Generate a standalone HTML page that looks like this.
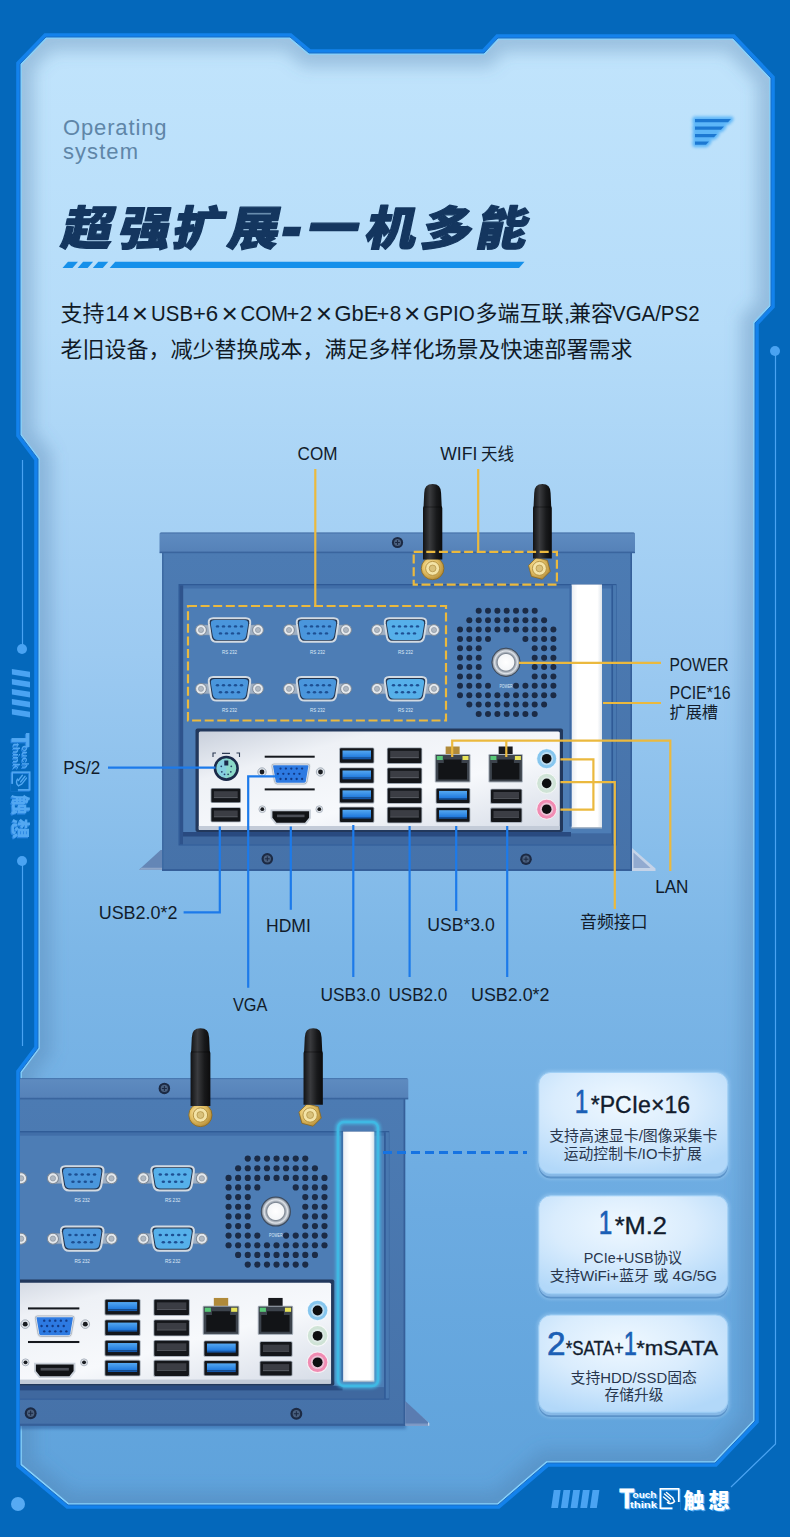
<!DOCTYPE html>
<html lang="zh-CN"><head><meta charset="utf-8"><title>超强扩展-一机多能</title>
<style>html,body{margin:0;padding:0;background:#0468bb}body{width:790px;height:1537px;overflow:hidden}svg{display:block}</style></head><body>
<svg width="790" height="1537" viewBox="0 0 790 1537">
<defs>
<linearGradient id="gPanel" x1="0" y1="0" x2="0" y2="1">
<stop offset="0" stop-color="#c1e4fc"/><stop offset="0.2" stop-color="#b5dcf9"/><stop offset="0.42" stop-color="#9ccaf1"/>
<stop offset="0.62" stop-color="#7db7e7"/><stop offset="0.8" stop-color="#6cabe1"/><stop offset="1" stop-color="#5ea2db"/>
</linearGradient>
<clipPath id="cpPanel"><polygon points="20,64 46,37 290,37 309,53 484,53 498,38 733,38 771,78 771,306 755,323 755,1421 715,1463 547,1463 498,1505 68,1505 20,1465 20,1072 38,1048 38,459 20,435"/></clipPath>
<filter id="blur6" x="-10%" y="-10%" width="120%" height="120%"><feGaussianBlur stdDeviation="6"/></filter>
<filter id="blur8" x="-10%" y="-10%" width="120%" height="120%"><feGaussianBlur stdDeviation="8"/></filter>
<filter id="blur3" x="-20%" y="-20%" width="140%" height="140%"><feGaussianBlur stdDeviation="3"/></filter>
<filter id="blur2" x="-30%" y="-30%" width="160%" height="160%"><feGaussianBlur stdDeviation="1.6"/></filter>
<filter id="blur1" x="-30%" y="-30%" width="160%" height="160%"><feGaussianBlur stdDeviation="0.8"/></filter>
</defs>
<rect width="790" height="1537" fill="#0468bb"/>
<polygon points="20,64 46,37 290,37 309,53 484,53 498,38 733,38 771,78 771,306 755,323 755,1421 715,1463 547,1463 498,1505 68,1505 20,1465 20,1072 38,1048 38,459 20,435" fill="none" stroke="#1382ec" stroke-width="7.6" stroke-linejoin="miter"/>
<polygon points="20,64 46,37 290,37 309,53 484,53 498,38 733,38 771,78 771,306 755,323 755,1421 715,1463 547,1463 498,1505 68,1505 20,1465 20,1072 38,1048 38,459 20,435" fill="url(#gPanel)"/>
<g clip-path="url(#cpPanel)"><polygon points="20,64 46,37 290,37 309,53 484,53 498,38 733,38 771,78 771,306 755,323 755,1421 715,1463 547,1463 498,1505 68,1505 20,1465 20,1072 38,1048 38,459 20,435" fill="none" stroke="#4a78a8" stroke-opacity="0.33" stroke-width="28" filter="url(#blur8)"/><polygon points="20,64 46,37 290,37 309,53 484,53 498,38 733,38 771,78 771,306 755,323 755,1421 715,1463 547,1463 498,1505 68,1505 20,1465 20,1072 38,1048 38,459 20,435" fill="none" stroke="#86d2fc" stroke-width="3.6"/></g>
<polygon points="20,64 46,37 290,37 309,53 484,53 498,38 733,38 771,78 771,306 755,323 755,1421 715,1463 547,1463 498,1505 68,1505 20,1465 20,1072 38,1048 38,459 20,435" fill="none" stroke="#1a6cc4" stroke-width="1"/>
<circle cx="775" cy="351" r="5" fill="#4aa3f2"/>
<polyline points="775.5,351 775.5,1444 731,1487" fill="none" stroke="#4aa3f2" stroke-width="1.2"/>
<line x1="22.5" y1="460" x2="22.5" y2="649" stroke="#4aa3f2" stroke-width="1.2"/>
<circle cx="22" cy="649" r="5" fill="#4aa3f2"/>
<circle cx="22" cy="861" r="5" fill="#4aa3f2"/>
<line x1="22.5" y1="861" x2="22.5" y2="1046" stroke="#4aa3f2" stroke-width="1.2"/>
<circle cx="18" cy="1504" r="7" fill="#56aaf3"/>
<polygon points="11.9,668.9 30,671.8 30,677.5 11.9,674.6" fill="#4aa3f2"/>
<polygon points="11.9,678.9 30,681.8 30,687.5 11.9,684.6" fill="#4aa3f2"/>
<polygon points="11.9,688.9 30,691.8 30,697.5 11.9,694.6" fill="#4aa3f2"/>
<polygon points="11.9,698.9 30,701.8 30,707.5 11.9,704.6" fill="#4aa3f2"/>
<polygon points="11.9,708.9 30,711.8 30,717.5 11.9,714.6" fill="#4aa3f2"/>
<polygon points="553.8,1490 560.6,1490 558.0,1508 551.2,1508" fill="#4aa3f2"/>
<polygon points="563.5,1490 570.3,1490 567.7,1508 560.9,1508" fill="#4aa3f2"/>
<polygon points="573.2,1490 580.0,1490 577.4,1508 570.6,1508" fill="#4aa3f2"/>
<polygon points="582.9,1490 589.7,1490 587.1,1508 580.3,1508" fill="#4aa3f2"/>
<polygon points="592.6,1490 599.4,1490 596.8,1508 590.0,1508" fill="#4aa3f2"/>
<defs>
<linearGradient id="gLid" x1="0" y1="0" x2="0" y2="1"><stop offset="0" stop-color="#2f5a96"/><stop offset="0.07" stop-color="#5e8bc0"/><stop offset="1" stop-color="#5581b8"/></linearGradient>
<linearGradient id="gBody" x1="0" y1="0" x2="0" y2="1"><stop offset="0" stop-color="#4c7bb3"/><stop offset="1" stop-color="#4672a9"/></linearGradient>
<linearGradient id="gShield" x1="0" y1="0" x2="1" y2="1"><stop offset="0" stop-color="#c9d0dc"/><stop offset="0.25" stop-color="#eef1f6"/><stop offset="0.6" stop-color="#f7f9fc"/><stop offset="1" stop-color="#d5dbe6"/></linearGradient>
<linearGradient id="gAnt" x1="0" y1="0" x2="1" y2="0"><stop offset="0" stop-color="#111214"/><stop offset="0.35" stop-color="#3a3b3e"/><stop offset="0.7" stop-color="#18191b"/><stop offset="1" stop-color="#0b0b0c"/></linearGradient>
<radialGradient id="gGold" cx="0.4" cy="0.4" r="0.7"><stop offset="0" stop-color="#fff3c8"/><stop offset="0.45" stop-color="#e6c46a"/><stop offset="1" stop-color="#a97f2a"/></radialGradient>
<radialGradient id="gBtn" cx="0.5" cy="0.5" r="0.5"><stop offset="0" stop-color="#ffffff"/><stop offset="0.55" stop-color="#f4f6f8"/><stop offset="0.62" stop-color="#7d8794"/><stop offset="0.8" stop-color="#dfe4ea"/><stop offset="1" stop-color="#5f6b7a"/></radialGradient>
<linearGradient id="gSlot" x1="0" y1="0" x2="1" y2="0"><stop offset="0" stop-color="#e9edf2"/><stop offset="0.2" stop-color="#ffffff"/><stop offset="0.85" stop-color="#ffffff"/><stop offset="1" stop-color="#dfe5ec"/></linearGradient>
<linearGradient id="gUsb3" x1="0" y1="0" x2="0" y2="1"><stop offset="0" stop-color="#54a8f2"/><stop offset="1" stop-color="#1f78dc"/></linearGradient>
</defs>
<g font-family="'Liberation Sans','Noto Sans CJK SC',sans-serif" font-size="22" fill="#5f86a8" font-weight="normal"><text x="63" y="135.4" textLength="103.5" lengthAdjust="spacing">Operating</text><text x="63" y="158.5" textLength="75" lengthAdjust="spacing">system</text></g>
<g fill="#58b4f8" stroke="#58b4f8" stroke-width="5" stroke-linejoin="round" filter="url(#blur2)" opacity="0.95"><polygon points="695,119 731,119 728,122.2 695,122.2"/><polygon points="695,126.5 724,126.5 721,129.7 695,129.7"/><polygon points="695,134 717,134 714,137.2 695,137.2"/><polygon points="695,141.5 709,141.5 706,144.7 695,144.7"/></g>
<g fill="#1c78d2"><polygon points="695,119 731,119 728,122.2 695,122.2"/><polygon points="695,126.5 724,126.5 721,129.7 695,129.7"/><polygon points="695,134 717,134 714,137.2 695,137.2"/><polygon points="695,141.5 709,141.5 706,144.7 695,144.7"/></g>
<g font-family="'Liberation Sans','Noto Sans CJK SC',sans-serif" font-weight="900" fill="#14365f" stroke="#14365f" stroke-width="1.3" stroke-linejoin="round" font-size="46.5">
<text transform="translate(85.2,244.8) skewX(-12) scale(1.1,1)" text-anchor="middle" x="0" y="0">超</text>
<text transform="translate(142.6,244.8) skewX(-12) scale(1.1,1)" text-anchor="middle" x="0" y="0">强</text>
<text transform="translate(196.0,244.8) skewX(-12) scale(1.1,1)" text-anchor="middle" x="0" y="0">扩</text>
<text transform="translate(251.6,244.8) skewX(-12) scale(1.1,1)" text-anchor="middle" x="0" y="0">展</text>
<text transform="translate(330.5,244.8) skewX(-12) scale(1.1,1)" text-anchor="middle" x="0" y="0">一</text>
<text transform="translate(388.8,244.8) skewX(-12) scale(1.1,1)" text-anchor="middle" x="0" y="0">机</text>
<text transform="translate(444.8,244.8) skewX(-12) scale(1.1,1)" text-anchor="middle" x="0" y="0">多</text>
<text transform="translate(499.5,244.8) skewX(-12) scale(1.1,1)" text-anchor="middle" x="0" y="0">能</text>
<text transform="translate(275.9,251.7) skewX(-12) scale(0.86,1)" x="0" y="0" font-size="79" stroke="none">-</text>
</g>
<polygon points="62.5,267.9 68.0,261.8 78.0,261.8 72.5,267.9" fill="#1590ea"/>
<polygon points="77.6,267.9 83.1,261.8 93.1,261.8 87.6,267.9" fill="#1590ea"/>
<polygon points="92.8,267.9 98.3,261.8 108.3,261.8 102.8,267.9" fill="#1590ea"/>
<polygon points="109.7,267.9 115.2,261.8 524.5,261.8 519,267.9" fill="#1590ea"/>
<g font-family="'Liberation Sans','Noto Sans CJK SC',sans-serif" font-size="22" fill="#111a26">
<text x="60.5" y="321.2">支持</text>
<text x="105.5" y="321.2" textLength="23.7" lengthAdjust="spacingAndGlyphs">14</text>
<text x="140.0" y="322.6" text-anchor="middle" font-size="28">×</text>
<text x="151.1" y="321.2" textLength="41.9" lengthAdjust="spacingAndGlyphs">USB</text>
<text x="199.5" y="321.2" text-anchor="middle">+</text>
<text x="205.7" y="321.2" textLength="12.4" lengthAdjust="spacingAndGlyphs">6</text>
<text x="229.7" y="322.6" text-anchor="middle" font-size="28">×</text>
<text x="240.4" y="321.2" textLength="47.6" lengthAdjust="spacingAndGlyphs">COM</text>
<text x="293.0" y="321.2" text-anchor="middle">+</text>
<text x="299.7" y="321.2" textLength="12.6" lengthAdjust="spacingAndGlyphs">2</text>
<text x="324.0" y="322.6" text-anchor="middle" font-size="28">×</text>
<text x="334.5" y="321.2" textLength="43.7" lengthAdjust="spacingAndGlyphs">GbE</text>
<text x="383.0" y="321.2" text-anchor="middle">+</text>
<text x="389.8" y="321.2" textLength="11.5" lengthAdjust="spacingAndGlyphs">8</text>
<text x="412.3" y="322.6" text-anchor="middle" font-size="28">×</text>
<text x="423.3" y="321.2" textLength="51.6" lengthAdjust="spacingAndGlyphs">GPIO</text>
<text x="475.5" y="321.2">多端互联</text>
<text x="564" y="321.2">,</text>
<text x="569" y="321.2">兼容</text>
<text x="612.0" y="321.2" textLength="87.5" lengthAdjust="spacingAndGlyphs">VGA/PS2</text>
<text x="60.5" y="357">老旧设备，减少替换成本，满足多样化场景及快速部署需求</text>
</g>
<g transform="translate(30.5,733) rotate(90) scale(0.96,0.9)" opacity="0.95"><g fill="#2f8ae6" color="#2f8ae6" transform="translate(1.3,1.3)"><text x="0" y="20" font-family="'Liberation Sans','Noto Sans CJK SC',sans-serif" font-weight="bold" font-size="27.5" textLength="14.5" lengthAdjust="spacingAndGlyphs" stroke-width="0.9" stroke="currentColor">T</text><text x="13" y="9.5" font-family="'Liberation Sans','Noto Sans CJK SC',sans-serif" font-weight="bold" font-size="9.5" textLength="24" lengthAdjust="spacingAndGlyphs">ouch</text><text x="10.5" y="19.5" font-family="'Liberation Sans','Noto Sans CJK SC',sans-serif" font-weight="bold" font-size="9.5" textLength="27" lengthAdjust="spacingAndGlyphs">think</text><text x="64" y="19.5" font-family="'Liberation Sans','Noto Sans CJK SC',sans-serif" font-weight="900" font-size="21" textLength="46" lengthAdjust="spacing">触想</text></g><g fill="#58acf5" color="#58acf5"><text x="0" y="20" font-family="'Liberation Sans','Noto Sans CJK SC',sans-serif" font-weight="bold" font-size="27.5" textLength="14.5" lengthAdjust="spacingAndGlyphs" stroke-width="0.9" stroke="currentColor">T</text><text x="13" y="9.5" font-family="'Liberation Sans','Noto Sans CJK SC',sans-serif" font-weight="bold" font-size="9.5" textLength="24" lengthAdjust="spacingAndGlyphs">ouch</text><text x="10.5" y="19.5" font-family="'Liberation Sans','Noto Sans CJK SC',sans-serif" font-weight="bold" font-size="9.5" textLength="27" lengthAdjust="spacingAndGlyphs">think</text><text x="64" y="19.5" font-family="'Liberation Sans','Noto Sans CJK SC',sans-serif" font-weight="900" font-size="21" textLength="46" lengthAdjust="spacing">触想</text></g><g transform="translate(40,0)"><rect x="0.8" y="0.8" width="18.4" height="19.4" fill="none" stroke="#2f8ae6" stroke-width="1.6" transform="translate(1,1)"/><rect x="0.8" y="0.8" width="18.4" height="19.4" fill="none" stroke="#58acf5" stroke-width="1.6"/><rect x="13" y="14" width="8" height="8" fill="#0468bb"/><path d="M5 6 l6 5 M7 4.5 l6.5 5.5 M4 9 l5.5 4.5 M8 14.5 q4 2.5 7 -1 l-2 -4" fill="none" stroke="#58acf5" stroke-width="1.5" stroke-linecap="round"/></g></g>
<g transform="translate(619.5,1488)"><g fill="#4aa8f5" color="#4aa8f5" transform="translate(1.3,1.3)"><text x="0" y="20" font-family="'Liberation Sans','Noto Sans CJK SC',sans-serif" font-weight="bold" font-size="27.5" textLength="14.5" lengthAdjust="spacingAndGlyphs" stroke-width="0.9" stroke="currentColor">T</text><text x="13" y="9.5" font-family="'Liberation Sans','Noto Sans CJK SC',sans-serif" font-weight="bold" font-size="9.5" textLength="24" lengthAdjust="spacingAndGlyphs">ouch</text><text x="10.5" y="19.5" font-family="'Liberation Sans','Noto Sans CJK SC',sans-serif" font-weight="bold" font-size="9.5" textLength="27" lengthAdjust="spacingAndGlyphs">think</text><text x="64" y="19.5" font-family="'Liberation Sans','Noto Sans CJK SC',sans-serif" font-weight="900" font-size="21" textLength="46" lengthAdjust="spacing">触想</text></g><g fill="#ffffff" color="#ffffff"><text x="0" y="20" font-family="'Liberation Sans','Noto Sans CJK SC',sans-serif" font-weight="bold" font-size="27.5" textLength="14.5" lengthAdjust="spacingAndGlyphs" stroke-width="0.9" stroke="currentColor">T</text><text x="13" y="9.5" font-family="'Liberation Sans','Noto Sans CJK SC',sans-serif" font-weight="bold" font-size="9.5" textLength="24" lengthAdjust="spacingAndGlyphs">ouch</text><text x="10.5" y="19.5" font-family="'Liberation Sans','Noto Sans CJK SC',sans-serif" font-weight="bold" font-size="9.5" textLength="27" lengthAdjust="spacingAndGlyphs">think</text><text x="64" y="19.5" font-family="'Liberation Sans','Noto Sans CJK SC',sans-serif" font-weight="900" font-size="21" textLength="46" lengthAdjust="spacing">触想</text></g><g transform="translate(40,0)"><rect x="0.8" y="0.8" width="18.4" height="19.4" fill="none" stroke="#4aa8f5" stroke-width="1.6" transform="translate(1,1)"/><rect x="0.8" y="0.8" width="18.4" height="19.4" fill="none" stroke="#ffffff" stroke-width="1.6"/><rect x="13" y="14" width="8" height="8" fill="#0468bb"/><path d="M5 6 l6 5 M7 4.5 l6.5 5.5 M4 9 l5.5 4.5 M8 14.5 q4 2.5 7 -1 l-2 -4" fill="none" stroke="#ffffff" stroke-width="1.5" stroke-linecap="round"/></g></g>
<polygon points="139,869.8 160.6,850 162.5,850 162.5,869.8" fill="#6486b6"/>
<polygon points="139,869.8 162.5,869.8 162.5,867.8 141.5,867.8" fill="#8ea6c9"/>
<polygon points="632,848 655.5,868.6 655.5,871 632,871" fill="#c5d3e8"/>
<polygon points="633.5,852.5 650.5,868 633.5,868" fill="#92aad0"/>
<rect x="162" y="551" width="470" height="320" fill="url(#gBody)"/>
<rect x="162" y="551" width="1.6" height="320" fill="#3d6aa3"/>
<rect x="630.4" y="551" width="1.6" height="320" fill="#355f99"/>
<rect x="162" y="869" width="470" height="2" fill="#355f99"/>
<rect x="159.5" y="532.5" width="475.5" height="20" rx="1.5" fill="url(#gLid)"/>
<rect x="159.5" y="551.6" width="475.5" height="1.6" fill="#3a659e"/>
<rect x="178.5" y="584" width="438" height="261.5" fill="#2f5a96"/>
<rect x="179.8" y="585.3" width="436" height="259" fill="#416ea8"/>
<rect x="183" y="588.5" width="428.5" height="245" fill="#4d7db5"/>
<rect x="611.5" y="585.3" width="1.6" height="259" fill="#2f5a96"/>
<rect x="613.1" y="585.3" width="3" height="259" fill="#4878b0"/>
<rect x="179.8" y="585.3" width="3.4" height="259" fill="#2e538c"/>
<rect x="183" y="833.5" width="428.5" height="11" fill="#3f689f"/>
<rect x="183" y="832" width="388" height="4.5" fill="#294a80"/>
<rect x="571.5" y="584.5" width="30.5" height="243" fill="url(#gSlot)"/>
<rect x="571.5" y="827" width="30.5" height="1.5" fill="#aab8c8"/>
<rect x="569.5" y="585.5" width="2" height="241" fill="#3d69a3"/>
<circle cx="397.5" cy="542.5" r="5.6" fill="#1c2a44"/><circle cx="397.5" cy="542.5" r="3.5" fill="#4a607f"/><path d="M395.1,542.5 h4.8 M397.5,540.1 v4.8" stroke="#1c2a44" stroke-width="1"/>
<rect x="196.5" y="625" width="66" height="10" rx="5" fill="#9fb0c4" stroke="#7f91a8" stroke-width="0.5"/><circle cx="201.0" cy="630" r="5.4" fill="#e4e8ec" stroke="#7c8896" stroke-width="1"/><circle cx="201.0" cy="630" r="2.6" fill="#aeb7c1" stroke="#87919d" stroke-width="0.6"/><circle cx="258.0" cy="630" r="5.4" fill="#e4e8ec" stroke="#7c8896" stroke-width="1"/><circle cx="258.0" cy="630" r="2.6" fill="#aeb7c1" stroke="#87919d" stroke-width="0.6"/><path d="M213.2,618.2 L245.8,618.2 Q250.8,618.2 250.20000000000002,623.2 L248.10000000000002,636.8 Q247.3,641.8 242.3,641.8 L216.7,641.8 Q211.7,641.8 210.89999999999998,636.8 L208.79999999999998,623.2 Q208.2,618.2 213.2,618.2 Z" fill="#22344f" stroke="#d2dae2" stroke-width="2"/><path d="M213.2,618.2 L245.8,618.2 Q250.8,618.2 250.20000000000002,623.2 L248.10000000000002,636.8 Q247.3,641.8 242.3,641.8 L216.7,641.8 Q211.7,641.8 210.89999999999998,636.8 L208.79999999999998,623.2 Q208.2,618.2 213.2,618.2 Z" fill="#4a96dc" transform="translate(229.5,630) scale(0.9,0.84) translate(-229.5,-630)"/><ellipse cx="217.5" cy="626.4" rx="1.7" ry="1.2" fill="#1d4f92"/><ellipse cx="223.5" cy="626.4" rx="1.7" ry="1.2" fill="#1d4f92"/><ellipse cx="229.5" cy="626.4" rx="1.7" ry="1.2" fill="#1d4f92"/><ellipse cx="235.5" cy="626.4" rx="1.7" ry="1.2" fill="#1d4f92"/><ellipse cx="241.5" cy="626.4" rx="1.7" ry="1.2" fill="#1d4f92"/><ellipse cx="220.5" cy="633.4" rx="1.7" ry="1.2" fill="#1d4f92"/><ellipse cx="226.5" cy="633.4" rx="1.7" ry="1.2" fill="#1d4f92"/><ellipse cx="232.5" cy="633.4" rx="1.7" ry="1.2" fill="#1d4f92"/><ellipse cx="238.5" cy="633.4" rx="1.7" ry="1.2" fill="#1d4f92"/><text x="229.5" y="653.5" font-family="'Liberation Sans','Noto Sans CJK SC',sans-serif" font-size="5.6" fill="#dfeaf7" text-anchor="middle" textLength="15" lengthAdjust="spacingAndGlyphs">RS 232</text>
<rect x="284.5" y="625" width="66" height="10" rx="5" fill="#9fb0c4" stroke="#7f91a8" stroke-width="0.5"/><circle cx="289.0" cy="630" r="5.4" fill="#e4e8ec" stroke="#7c8896" stroke-width="1"/><circle cx="289.0" cy="630" r="2.6" fill="#aeb7c1" stroke="#87919d" stroke-width="0.6"/><circle cx="346.0" cy="630" r="5.4" fill="#e4e8ec" stroke="#7c8896" stroke-width="1"/><circle cx="346.0" cy="630" r="2.6" fill="#aeb7c1" stroke="#87919d" stroke-width="0.6"/><path d="M301.2,618.2 L333.8,618.2 Q338.8,618.2 338.2,623.2 L336.1,636.8 Q335.3,641.8 330.3,641.8 L304.7,641.8 Q299.7,641.8 298.9,636.8 L296.8,623.2 Q296.2,618.2 301.2,618.2 Z" fill="#22344f" stroke="#d2dae2" stroke-width="2"/><path d="M301.2,618.2 L333.8,618.2 Q338.8,618.2 338.2,623.2 L336.1,636.8 Q335.3,641.8 330.3,641.8 L304.7,641.8 Q299.7,641.8 298.9,636.8 L296.8,623.2 Q296.2,618.2 301.2,618.2 Z" fill="#4a96dc" transform="translate(317.5,630) scale(0.9,0.84) translate(-317.5,-630)"/><ellipse cx="305.5" cy="626.4" rx="1.7" ry="1.2" fill="#1d4f92"/><ellipse cx="311.5" cy="626.4" rx="1.7" ry="1.2" fill="#1d4f92"/><ellipse cx="317.5" cy="626.4" rx="1.7" ry="1.2" fill="#1d4f92"/><ellipse cx="323.5" cy="626.4" rx="1.7" ry="1.2" fill="#1d4f92"/><ellipse cx="329.5" cy="626.4" rx="1.7" ry="1.2" fill="#1d4f92"/><ellipse cx="308.5" cy="633.4" rx="1.7" ry="1.2" fill="#1d4f92"/><ellipse cx="314.5" cy="633.4" rx="1.7" ry="1.2" fill="#1d4f92"/><ellipse cx="320.5" cy="633.4" rx="1.7" ry="1.2" fill="#1d4f92"/><ellipse cx="326.5" cy="633.4" rx="1.7" ry="1.2" fill="#1d4f92"/><text x="317.5" y="653.5" font-family="'Liberation Sans','Noto Sans CJK SC',sans-serif" font-size="5.6" fill="#dfeaf7" text-anchor="middle" textLength="15" lengthAdjust="spacingAndGlyphs">RS 232</text>
<rect x="372.5" y="625" width="66" height="10" rx="5" fill="#9fb0c4" stroke="#7f91a8" stroke-width="0.5"/><circle cx="377.0" cy="630" r="5.4" fill="#e4e8ec" stroke="#7c8896" stroke-width="1"/><circle cx="377.0" cy="630" r="2.6" fill="#aeb7c1" stroke="#87919d" stroke-width="0.6"/><circle cx="434.0" cy="630" r="5.4" fill="#e4e8ec" stroke="#7c8896" stroke-width="1"/><circle cx="434.0" cy="630" r="2.6" fill="#aeb7c1" stroke="#87919d" stroke-width="0.6"/><path d="M389.2,618.2 L421.8,618.2 Q426.8,618.2 426.2,623.2 L424.1,636.8 Q423.3,641.8 418.3,641.8 L392.7,641.8 Q387.7,641.8 386.9,636.8 L384.8,623.2 Q384.2,618.2 389.2,618.2 Z" fill="#22344f" stroke="#d2dae2" stroke-width="2"/><path d="M389.2,618.2 L421.8,618.2 Q426.8,618.2 426.2,623.2 L424.1,636.8 Q423.3,641.8 418.3,641.8 L392.7,641.8 Q387.7,641.8 386.9,636.8 L384.8,623.2 Q384.2,618.2 389.2,618.2 Z" fill="#56b0ea" transform="translate(405.5,630) scale(0.9,0.84) translate(-405.5,-630)"/><ellipse cx="393.5" cy="626.4" rx="1.7" ry="1.2" fill="#1d4f92"/><ellipse cx="399.5" cy="626.4" rx="1.7" ry="1.2" fill="#1d4f92"/><ellipse cx="405.5" cy="626.4" rx="1.7" ry="1.2" fill="#1d4f92"/><ellipse cx="411.5" cy="626.4" rx="1.7" ry="1.2" fill="#1d4f92"/><ellipse cx="417.5" cy="626.4" rx="1.7" ry="1.2" fill="#1d4f92"/><ellipse cx="396.5" cy="633.4" rx="1.7" ry="1.2" fill="#1d4f92"/><ellipse cx="402.5" cy="633.4" rx="1.7" ry="1.2" fill="#1d4f92"/><ellipse cx="408.5" cy="633.4" rx="1.7" ry="1.2" fill="#1d4f92"/><ellipse cx="414.5" cy="633.4" rx="1.7" ry="1.2" fill="#1d4f92"/><text x="405.5" y="653.5" font-family="'Liberation Sans','Noto Sans CJK SC',sans-serif" font-size="5.6" fill="#dfeaf7" text-anchor="middle" textLength="15" lengthAdjust="spacingAndGlyphs">RS 232</text>
<rect x="196.5" y="683.8" width="66" height="10" rx="5" fill="#9fb0c4" stroke="#7f91a8" stroke-width="0.5"/><circle cx="201.0" cy="688.8" r="5.4" fill="#e4e8ec" stroke="#7c8896" stroke-width="1"/><circle cx="201.0" cy="688.8" r="2.6" fill="#aeb7c1" stroke="#87919d" stroke-width="0.6"/><circle cx="258.0" cy="688.8" r="5.4" fill="#e4e8ec" stroke="#7c8896" stroke-width="1"/><circle cx="258.0" cy="688.8" r="2.6" fill="#aeb7c1" stroke="#87919d" stroke-width="0.6"/><path d="M213.2,677.0 L245.8,677.0 Q250.8,677.0 250.20000000000002,682.0 L248.10000000000002,695.5999999999999 Q247.3,700.5999999999999 242.3,700.5999999999999 L216.7,700.5999999999999 Q211.7,700.5999999999999 210.89999999999998,695.5999999999999 L208.79999999999998,682.0 Q208.2,677.0 213.2,677.0 Z" fill="#22344f" stroke="#d2dae2" stroke-width="2"/><path d="M213.2,677.0 L245.8,677.0 Q250.8,677.0 250.20000000000002,682.0 L248.10000000000002,695.5999999999999 Q247.3,700.5999999999999 242.3,700.5999999999999 L216.7,700.5999999999999 Q211.7,700.5999999999999 210.89999999999998,695.5999999999999 L208.79999999999998,682.0 Q208.2,677.0 213.2,677.0 Z" fill="#4a96dc" transform="translate(229.5,688.8) scale(0.9,0.84) translate(-229.5,-688.8)"/><ellipse cx="217.5" cy="685.1999999999999" rx="1.7" ry="1.2" fill="#1d4f92"/><ellipse cx="223.5" cy="685.1999999999999" rx="1.7" ry="1.2" fill="#1d4f92"/><ellipse cx="229.5" cy="685.1999999999999" rx="1.7" ry="1.2" fill="#1d4f92"/><ellipse cx="235.5" cy="685.1999999999999" rx="1.7" ry="1.2" fill="#1d4f92"/><ellipse cx="241.5" cy="685.1999999999999" rx="1.7" ry="1.2" fill="#1d4f92"/><ellipse cx="220.5" cy="692.1999999999999" rx="1.7" ry="1.2" fill="#1d4f92"/><ellipse cx="226.5" cy="692.1999999999999" rx="1.7" ry="1.2" fill="#1d4f92"/><ellipse cx="232.5" cy="692.1999999999999" rx="1.7" ry="1.2" fill="#1d4f92"/><ellipse cx="238.5" cy="692.1999999999999" rx="1.7" ry="1.2" fill="#1d4f92"/><text x="229.5" y="712.3" font-family="'Liberation Sans','Noto Sans CJK SC',sans-serif" font-size="5.6" fill="#dfeaf7" text-anchor="middle" textLength="15" lengthAdjust="spacingAndGlyphs">RS 232</text>
<rect x="284.5" y="683.8" width="66" height="10" rx="5" fill="#9fb0c4" stroke="#7f91a8" stroke-width="0.5"/><circle cx="289.0" cy="688.8" r="5.4" fill="#e4e8ec" stroke="#7c8896" stroke-width="1"/><circle cx="289.0" cy="688.8" r="2.6" fill="#aeb7c1" stroke="#87919d" stroke-width="0.6"/><circle cx="346.0" cy="688.8" r="5.4" fill="#e4e8ec" stroke="#7c8896" stroke-width="1"/><circle cx="346.0" cy="688.8" r="2.6" fill="#aeb7c1" stroke="#87919d" stroke-width="0.6"/><path d="M301.2,677.0 L333.8,677.0 Q338.8,677.0 338.2,682.0 L336.1,695.5999999999999 Q335.3,700.5999999999999 330.3,700.5999999999999 L304.7,700.5999999999999 Q299.7,700.5999999999999 298.9,695.5999999999999 L296.8,682.0 Q296.2,677.0 301.2,677.0 Z" fill="#22344f" stroke="#d2dae2" stroke-width="2"/><path d="M301.2,677.0 L333.8,677.0 Q338.8,677.0 338.2,682.0 L336.1,695.5999999999999 Q335.3,700.5999999999999 330.3,700.5999999999999 L304.7,700.5999999999999 Q299.7,700.5999999999999 298.9,695.5999999999999 L296.8,682.0 Q296.2,677.0 301.2,677.0 Z" fill="#4a96dc" transform="translate(317.5,688.8) scale(0.9,0.84) translate(-317.5,-688.8)"/><ellipse cx="305.5" cy="685.1999999999999" rx="1.7" ry="1.2" fill="#1d4f92"/><ellipse cx="311.5" cy="685.1999999999999" rx="1.7" ry="1.2" fill="#1d4f92"/><ellipse cx="317.5" cy="685.1999999999999" rx="1.7" ry="1.2" fill="#1d4f92"/><ellipse cx="323.5" cy="685.1999999999999" rx="1.7" ry="1.2" fill="#1d4f92"/><ellipse cx="329.5" cy="685.1999999999999" rx="1.7" ry="1.2" fill="#1d4f92"/><ellipse cx="308.5" cy="692.1999999999999" rx="1.7" ry="1.2" fill="#1d4f92"/><ellipse cx="314.5" cy="692.1999999999999" rx="1.7" ry="1.2" fill="#1d4f92"/><ellipse cx="320.5" cy="692.1999999999999" rx="1.7" ry="1.2" fill="#1d4f92"/><ellipse cx="326.5" cy="692.1999999999999" rx="1.7" ry="1.2" fill="#1d4f92"/><text x="317.5" y="712.3" font-family="'Liberation Sans','Noto Sans CJK SC',sans-serif" font-size="5.6" fill="#dfeaf7" text-anchor="middle" textLength="15" lengthAdjust="spacingAndGlyphs">RS 232</text>
<rect x="372.5" y="683.8" width="66" height="10" rx="5" fill="#9fb0c4" stroke="#7f91a8" stroke-width="0.5"/><circle cx="377.0" cy="688.8" r="5.4" fill="#e4e8ec" stroke="#7c8896" stroke-width="1"/><circle cx="377.0" cy="688.8" r="2.6" fill="#aeb7c1" stroke="#87919d" stroke-width="0.6"/><circle cx="434.0" cy="688.8" r="5.4" fill="#e4e8ec" stroke="#7c8896" stroke-width="1"/><circle cx="434.0" cy="688.8" r="2.6" fill="#aeb7c1" stroke="#87919d" stroke-width="0.6"/><path d="M389.2,677.0 L421.8,677.0 Q426.8,677.0 426.2,682.0 L424.1,695.5999999999999 Q423.3,700.5999999999999 418.3,700.5999999999999 L392.7,700.5999999999999 Q387.7,700.5999999999999 386.9,695.5999999999999 L384.8,682.0 Q384.2,677.0 389.2,677.0 Z" fill="#22344f" stroke="#d2dae2" stroke-width="2"/><path d="M389.2,677.0 L421.8,677.0 Q426.8,677.0 426.2,682.0 L424.1,695.5999999999999 Q423.3,700.5999999999999 418.3,700.5999999999999 L392.7,700.5999999999999 Q387.7,700.5999999999999 386.9,695.5999999999999 L384.8,682.0 Q384.2,677.0 389.2,677.0 Z" fill="#56b0ea" transform="translate(405.5,688.8) scale(0.9,0.84) translate(-405.5,-688.8)"/><ellipse cx="393.5" cy="685.1999999999999" rx="1.7" ry="1.2" fill="#1d4f92"/><ellipse cx="399.5" cy="685.1999999999999" rx="1.7" ry="1.2" fill="#1d4f92"/><ellipse cx="405.5" cy="685.1999999999999" rx="1.7" ry="1.2" fill="#1d4f92"/><ellipse cx="411.5" cy="685.1999999999999" rx="1.7" ry="1.2" fill="#1d4f92"/><ellipse cx="417.5" cy="685.1999999999999" rx="1.7" ry="1.2" fill="#1d4f92"/><ellipse cx="396.5" cy="692.1999999999999" rx="1.7" ry="1.2" fill="#1d4f92"/><ellipse cx="402.5" cy="692.1999999999999" rx="1.7" ry="1.2" fill="#1d4f92"/><ellipse cx="408.5" cy="692.1999999999999" rx="1.7" ry="1.2" fill="#1d4f92"/><ellipse cx="414.5" cy="692.1999999999999" rx="1.7" ry="1.2" fill="#1d4f92"/><text x="405.5" y="712.3" font-family="'Liberation Sans','Noto Sans CJK SC',sans-serif" font-size="5.6" fill="#dfeaf7" text-anchor="middle" textLength="15" lengthAdjust="spacingAndGlyphs">RS 232</text>
<g fill="#1b2b46"><circle cx="478.7" cy="610.8" r="3.0"/><circle cx="488.0" cy="610.8" r="3.0"/><circle cx="497.4" cy="610.8" r="3.0"/><circle cx="506.7" cy="610.8" r="3.0"/><circle cx="516.0" cy="610.8" r="3.0"/><circle cx="525.4" cy="610.8" r="3.0"/><circle cx="534.7" cy="610.8" r="3.0"/><circle cx="469.3" cy="620.2" r="3.0"/><circle cx="478.7" cy="620.2" r="3.0"/><circle cx="488.0" cy="620.2" r="3.0"/><circle cx="497.4" cy="620.2" r="3.0"/><circle cx="506.7" cy="620.2" r="3.0"/><circle cx="516.0" cy="620.2" r="3.0"/><circle cx="525.4" cy="620.2" r="3.0"/><circle cx="534.7" cy="620.2" r="3.0"/><circle cx="544.1" cy="620.2" r="3.0"/><circle cx="460.0" cy="629.6" r="3.0"/><circle cx="469.3" cy="629.6" r="3.0"/><circle cx="478.7" cy="629.6" r="3.0"/><circle cx="488.0" cy="629.6" r="3.0"/><circle cx="497.4" cy="629.6" r="3.0"/><circle cx="506.7" cy="629.6" r="3.0"/><circle cx="516.0" cy="629.6" r="3.0"/><circle cx="525.4" cy="629.6" r="3.0"/><circle cx="534.7" cy="629.6" r="3.0"/><circle cx="544.1" cy="629.6" r="3.0"/><circle cx="553.4" cy="629.6" r="3.0"/><circle cx="460.0" cy="638.9" r="3.0"/><circle cx="469.3" cy="638.9" r="3.0"/><circle cx="478.7" cy="638.9" r="3.0"/><circle cx="488.0" cy="638.9" r="3.0"/><circle cx="525.4" cy="638.9" r="3.0"/><circle cx="534.7" cy="638.9" r="3.0"/><circle cx="544.1" cy="638.9" r="3.0"/><circle cx="553.4" cy="638.9" r="3.0"/><circle cx="460.0" cy="648.3" r="3.0"/><circle cx="469.3" cy="648.3" r="3.0"/><circle cx="478.7" cy="648.3" r="3.0"/><circle cx="534.7" cy="648.3" r="3.0"/><circle cx="544.1" cy="648.3" r="3.0"/><circle cx="553.4" cy="648.3" r="3.0"/><circle cx="460.0" cy="657.7" r="3.0"/><circle cx="469.3" cy="657.7" r="3.0"/><circle cx="478.7" cy="657.7" r="3.0"/><circle cx="534.7" cy="657.7" r="3.0"/><circle cx="544.1" cy="657.7" r="3.0"/><circle cx="553.4" cy="657.7" r="3.0"/><circle cx="460.0" cy="667.1" r="3.0"/><circle cx="469.3" cy="667.1" r="3.0"/><circle cx="478.7" cy="667.1" r="3.0"/><circle cx="534.7" cy="667.1" r="3.0"/><circle cx="544.1" cy="667.1" r="3.0"/><circle cx="553.4" cy="667.1" r="3.0"/><circle cx="460.0" cy="676.5" r="3.0"/><circle cx="469.3" cy="676.5" r="3.0"/><circle cx="478.7" cy="676.5" r="3.0"/><circle cx="534.7" cy="676.5" r="3.0"/><circle cx="544.1" cy="676.5" r="3.0"/><circle cx="553.4" cy="676.5" r="3.0"/><circle cx="460.0" cy="685.8" r="3.0"/><circle cx="469.3" cy="685.8" r="3.0"/><circle cx="478.7" cy="685.8" r="3.0"/><circle cx="488.0" cy="685.8" r="3.0"/><circle cx="516.0" cy="685.8" r="3.0"/><circle cx="525.4" cy="685.8" r="3.0"/><circle cx="534.7" cy="685.8" r="3.0"/><circle cx="544.1" cy="685.8" r="3.0"/><circle cx="553.4" cy="685.8" r="3.0"/><circle cx="460.0" cy="695.2" r="3.0"/><circle cx="469.3" cy="695.2" r="3.0"/><circle cx="478.7" cy="695.2" r="3.0"/><circle cx="488.0" cy="695.2" r="3.0"/><circle cx="497.4" cy="695.2" r="3.0"/><circle cx="506.7" cy="695.2" r="3.0"/><circle cx="516.0" cy="695.2" r="3.0"/><circle cx="525.4" cy="695.2" r="3.0"/><circle cx="534.7" cy="695.2" r="3.0"/><circle cx="544.1" cy="695.2" r="3.0"/><circle cx="553.4" cy="695.2" r="3.0"/><circle cx="469.3" cy="704.6" r="3.0"/><circle cx="478.7" cy="704.6" r="3.0"/><circle cx="488.0" cy="704.6" r="3.0"/><circle cx="497.4" cy="704.6" r="3.0"/><circle cx="506.7" cy="704.6" r="3.0"/><circle cx="516.0" cy="704.6" r="3.0"/><circle cx="525.4" cy="704.6" r="3.0"/><circle cx="534.7" cy="704.6" r="3.0"/><circle cx="544.1" cy="704.6" r="3.0"/><circle cx="478.7" cy="714.0" r="3.0"/><circle cx="488.0" cy="714.0" r="3.0"/><circle cx="497.4" cy="714.0" r="3.0"/><circle cx="506.7" cy="714.0" r="3.0"/><circle cx="516.0" cy="714.0" r="3.0"/><circle cx="525.4" cy="714.0" r="3.0"/><circle cx="534.7" cy="714.0" r="3.0"/></g>
<circle cx="506" cy="662.3" r="14.2" fill="url(#gBtn)" stroke="#3d4a5c" stroke-width="1"/>
<text x="506" y="687.5" font-family="'Liberation Sans','Noto Sans CJK SC',sans-serif" font-size="4.6" fill="#dfeaf7" text-anchor="middle" textLength="13" lengthAdjust="spacingAndGlyphs">POWER</text>
<rect x="195.5" y="728.6" width="367.5" height="103.4" rx="2" fill="#22385c"/>
<rect x="198.8" y="731.6" width="361" height="98.4" rx="1.5" fill="url(#gShield)"/>
<rect x="198.8" y="826" width="361" height="4" fill="#c3cbd8"/>
<circle cx="226.3" cy="768.3" r="11.3" fill="#8bd9c8" stroke="#1b2a4a" stroke-width="2.6"/>
<path d="M226.3,759 A9.3,9.3 0 0 0 226.3,777.6 Z" fill="#86cfe0"/>
<rect x="224.3" y="760.5" width="4" height="5" fill="#1b2a4a"/>
<circle cx="221.3" cy="766.3" r="0.9" fill="#25406a"/>
<circle cx="231.3" cy="766.3" r="0.9" fill="#25406a"/>
<circle cx="221.8" cy="771.8" r="0.9" fill="#25406a"/>
<circle cx="230.8" cy="771.8" r="0.9" fill="#25406a"/>
<circle cx="224.5" cy="774.3" r="0.9" fill="#25406a"/>
<circle cx="228.10000000000002" cy="774.3" r="0.9" fill="#25406a"/>
<path d="M213,757 v-4 h3 M239.5,757 v-4 h-3 M222,753.4 h8" stroke="#2c3a52" stroke-width="1.1" fill="none"/>
<rect x="210.6" y="787.9000000000001" width="30.400000000000002" height="15.2" rx="1.5" fill="#9aa3ae"/><rect x="211.4" y="788.7" width="28.8" height="13.6" rx="1" fill="#14161a"/><rect x="213.9" y="791.2" width="23.8" height="5.7" fill="#3b3d44"/><rect x="213.9" y="796.9" width="23.8" height="1.2" fill="#55585f"/>
<rect x="210.6" y="807.2" width="30.400000000000002" height="15.0" rx="1.5" fill="#9aa3ae"/><rect x="211.4" y="808" width="28.8" height="13.4" rx="1" fill="#14161a"/><rect x="213.9" y="810.5" width="23.8" height="5.6" fill="#3b3d44"/><rect x="213.9" y="816.1" width="23.8" height="1.2" fill="#55585f"/>
<rect x="264.7" y="755.7" width="50" height="2" fill="#15181d"/><rect x="264.7" y="788.4" width="50" height="2" fill="#15181d"/>
<circle cx="262" cy="772" r="4.2" fill="#dfe4ea" stroke="#98a2af" stroke-width="0.8"/><circle cx="262" cy="772" r="2.4" fill="#1a1d22"/>
<circle cx="320.5" cy="772" r="4.2" fill="#dfe4ea" stroke="#98a2af" stroke-width="0.8"/><circle cx="320.5" cy="772" r="2.4" fill="#1a1d22"/>
<path d="M274,764 H307.5 Q310,764 309.6,766.5 L307,781.5 Q306.5,784 304,784 H277.5 Q275,784 274.5,781.5 L271.9,766.5 Q271.5,764 274,764 Z" fill="#2d7ae2" stroke="#e6eaef" stroke-width="2.4"/><path d="M274,764 H307.5 Q310,764 309.6,766.5 L307,781.5 Q306.5,784 304,784 H277.5 Q275,784 274.5,781.5 L271.9,766.5 Q271.5,764 274,764 Z" fill="none" stroke="#7f8a98" stroke-width="0.5"/>
<circle cx="280.5" cy="768.6" r="1.15" fill="#123a86"/>
<circle cx="285.9" cy="768.6" r="1.15" fill="#123a86"/>
<circle cx="291.3" cy="768.6" r="1.15" fill="#123a86"/>
<circle cx="296.7" cy="768.6" r="1.15" fill="#123a86"/>
<circle cx="302.1" cy="768.6" r="1.15" fill="#123a86"/>
<circle cx="277.9" cy="773.8" r="1.15" fill="#123a86"/>
<circle cx="283.3" cy="773.8" r="1.15" fill="#123a86"/>
<circle cx="288.7" cy="773.8" r="1.15" fill="#123a86"/>
<circle cx="294.1" cy="773.8" r="1.15" fill="#123a86"/>
<circle cx="299.5" cy="773.8" r="1.15" fill="#123a86"/>
<circle cx="280.5" cy="779.0" r="1.15" fill="#123a86"/>
<circle cx="285.9" cy="779.0" r="1.15" fill="#123a86"/>
<circle cx="291.3" cy="779.0" r="1.15" fill="#123a86"/>
<circle cx="296.7" cy="779.0" r="1.15" fill="#123a86"/>
<circle cx="302.1" cy="779.0" r="1.15" fill="#123a86"/>
<circle cx="262.3" cy="809.2" r="3.4" fill="#e1e5ea" stroke="#98a2af" stroke-width="0.7"/><circle cx="262.3" cy="809.2" r="1.9" fill="#1a1d22"/>
<circle cx="319.3" cy="809.2" r="3.4" fill="#e1e5ea" stroke="#98a2af" stroke-width="0.7"/><circle cx="319.3" cy="809.2" r="1.9" fill="#1a1d22"/>
<path d="M271.5,810.4 H310 V818 L305.5,823.6 H276 L271.5,818 Z" fill="#101215" stroke="#c9d0d9" stroke-width="1.8"/><rect x="277" y="814.6" width="27.5" height="2.6" fill="#4a4d55"/>
<rect x="339.2" y="747.5" width="35.1" height="16.0" rx="1.5" fill="#9aa3ae"/><rect x="340" y="748.3" width="33.5" height="14.4" rx="1" fill="#14161a"/><rect x="342.5" y="750.5" width="28.5" height="7.2" fill="url(#gUsb3)"/><rect x="342.5" y="757.7" width="28.5" height="1.6" fill="#1557a8"/>
<rect x="339.2" y="767.5" width="35.1" height="16.0" rx="1.5" fill="#9aa3ae"/><rect x="340" y="768.3" width="33.5" height="14.4" rx="1" fill="#14161a"/><rect x="342.5" y="770.5" width="28.5" height="7.2" fill="url(#gUsb3)"/><rect x="342.5" y="777.7" width="28.5" height="1.6" fill="#1557a8"/>
<rect x="339.2" y="787.4000000000001" width="35.1" height="16.0" rx="1.5" fill="#9aa3ae"/><rect x="340" y="788.2" width="33.5" height="14.4" rx="1" fill="#14161a"/><rect x="342.5" y="790.4000000000001" width="28.5" height="7.2" fill="url(#gUsb3)"/><rect x="342.5" y="797.6" width="28.5" height="1.6" fill="#1557a8"/>
<rect x="339.2" y="806.8000000000001" width="35.1" height="16.0" rx="1.5" fill="#9aa3ae"/><rect x="340" y="807.6" width="33.5" height="14.4" rx="1" fill="#14161a"/><rect x="342.5" y="809.8000000000001" width="28.5" height="7.2" fill="url(#gUsb3)"/><rect x="342.5" y="817.0" width="28.5" height="1.6" fill="#1557a8"/>
<rect x="386.9" y="747.5" width="35.300000000000004" height="16.400000000000002" rx="1.5" fill="#9aa3ae"/><rect x="387.7" y="748.3" width="33.7" height="14.8" rx="1" fill="#14161a"/><rect x="390.2" y="750.8" width="28.700000000000003" height="6.2" fill="#3b3d44"/><rect x="390.2" y="757.0" width="28.700000000000003" height="1.2" fill="#55585f"/>
<rect x="386.9" y="767.5" width="35.300000000000004" height="16.400000000000002" rx="1.5" fill="#9aa3ae"/><rect x="387.7" y="768.3" width="33.7" height="14.8" rx="1" fill="#14161a"/><rect x="390.2" y="770.8" width="28.700000000000003" height="6.2" fill="#3b3d44"/><rect x="390.2" y="777.0" width="28.700000000000003" height="1.2" fill="#55585f"/>
<rect x="386.9" y="787.4000000000001" width="35.300000000000004" height="16.400000000000002" rx="1.5" fill="#9aa3ae"/><rect x="387.7" y="788.2" width="33.7" height="14.8" rx="1" fill="#14161a"/><rect x="390.2" y="790.7" width="28.700000000000003" height="6.2" fill="#3b3d44"/><rect x="390.2" y="796.9" width="28.700000000000003" height="1.2" fill="#55585f"/>
<rect x="386.9" y="806.8000000000001" width="35.300000000000004" height="16.400000000000002" rx="1.5" fill="#9aa3ae"/><rect x="387.7" y="807.6" width="33.7" height="14.8" rx="1" fill="#14161a"/><rect x="390.2" y="810.1" width="28.700000000000003" height="6.2" fill="#3b3d44"/><rect x="390.2" y="816.3" width="28.700000000000003" height="1.2" fill="#55585f"/>
<rect x="445.65000000000003" y="746.5" width="14" height="9" fill="#b08a3a"/><rect x="434.8" y="754" width="35.7" height="28.5" rx="1.2" fill="#aab3bd"/><rect x="435.8" y="755" width="33.7" height="26.5" fill="#3c434c"/><path d="M438.3,779.5 V763 H443.8 V759.5 H461.5 V763 H467.0 V779.5 Z" fill="#121417"/><rect x="436.8" y="756" width="6" height="4" fill="#58c878"/><rect x="462.5" y="756" width="6" height="4" fill="#e8e45a"/>
<rect x="435.7" y="787.9000000000001" width="34.6" height="15.9" rx="1.5" fill="#9aa3ae"/><rect x="436.5" y="788.7" width="33" height="14.3" rx="1" fill="#14161a"/><rect x="439.0" y="790.9000000000001" width="28" height="7.2" fill="url(#gUsb3)"/><rect x="439.0" y="798.1" width="28" height="1.6" fill="#1557a8"/>
<rect x="435.7" y="807.2" width="34.6" height="15.4" rx="1.5" fill="#9aa3ae"/><rect x="436.5" y="808" width="33" height="13.8" rx="1" fill="#14161a"/><rect x="439.0" y="810.2" width="28" height="6.9" fill="url(#gUsb3)"/><rect x="439.0" y="817.1" width="28" height="1.6" fill="#1557a8"/>
<rect x="498.65" y="746.5" width="14" height="9" fill="#17191d"/><rect x="488.4" y="754" width="34.5" height="28.5" rx="1.2" fill="#aab3bd"/><rect x="489.4" y="755" width="32.5" height="26.5" fill="#3c434c"/><path d="M491.9,779.5 V763 H497.4 V759.5 H513.9 V763 H519.4 V779.5 Z" fill="#121417"/><rect x="490.4" y="756" width="6" height="4" fill="#58c878"/><rect x="514.9" y="756" width="6" height="4" fill="#e8e45a"/>
<rect x="490.2" y="788.7" width="32.1" height="15.2" rx="1.5" fill="#9aa3ae"/><rect x="491" y="789.5" width="30.5" height="13.6" rx="1" fill="#14161a"/><rect x="493.5" y="792.0" width="25.5" height="5.7" fill="#3b3d44"/><rect x="493.5" y="797.7" width="25.5" height="1.2" fill="#55585f"/>
<rect x="490.2" y="807.6" width="32.1" height="15.2" rx="1.5" fill="#9aa3ae"/><rect x="491" y="808.4" width="30.5" height="13.6" rx="1" fill="#14161a"/><rect x="493.5" y="810.9" width="25.5" height="5.7" fill="#3b3d44"/><rect x="493.5" y="816.6" width="25.5" height="1.2" fill="#55585f"/>
<circle cx="546.7" cy="758.7" r="10" fill="#86c6ee" stroke="#ffffff" stroke-opacity="0.7" stroke-width="1"/><circle cx="546.7" cy="758.7" r="6.6" fill="#e8eef2" fill-opacity="0.55"/><circle cx="546.7" cy="758.7" r="4.8" fill="#0d0e10"/>
<circle cx="546.7" cy="783.4" r="10" fill="#cfe3d6" stroke="#ffffff" stroke-opacity="0.7" stroke-width="1"/><circle cx="546.7" cy="783.4" r="6.6" fill="#e8eef2" fill-opacity="0.55"/><circle cx="546.7" cy="783.4" r="4.8" fill="#0d0e10"/>
<circle cx="546.7" cy="809.2" r="10" fill="#f08bb2" stroke="#ffffff" stroke-opacity="0.7" stroke-width="1"/><circle cx="546.7" cy="809.2" r="6.6" fill="#e8eef2" fill-opacity="0.55"/><circle cx="546.7" cy="809.2" r="4.8" fill="#0d0e10"/>
<circle cx="267.3" cy="858.8" r="5.8" fill="#1c2a44"/><circle cx="267.3" cy="858.8" r="3.6" fill="#4a607f"/><path d="M264.90000000000003,858.8 h4.8 M267.3,856.4 v4.8" stroke="#1c2a44" stroke-width="1"/>
<circle cx="526" cy="859.2" r="5.8" fill="#1c2a44"/><circle cx="526" cy="859.2" r="3.6" fill="#4a607f"/><path d="M523.6,859.2 h4.8 M526,856.8000000000001 v4.8" stroke="#1c2a44" stroke-width="1"/>
<circle cx="432.6" cy="568.4" r="11.3" fill="url(#gGold)" stroke="#8a6820" stroke-width="0.8"/><circle cx="432.6" cy="568.4" r="7.0" fill="#f3e3a6" stroke="#b08d3c" stroke-width="0.9"/><circle cx="432.6" cy="568.4" r="3.4" fill="#d9c17a" stroke="#a8873a" stroke-width="0.6"/>
<polygon points="550.3,571.3 542.3,579.3 531.4,576.4 528.5,565.5 536.5,557.5 547.4,560.4" fill="url(#gGold)" stroke="#8a6820" stroke-width="0.8"/><circle cx="539.4" cy="568.4" r="7.0" fill="#f3e3a6" stroke="#b08d3c" stroke-width="0.9"/><circle cx="539.4" cy="568.4" r="3.4" fill="#d9c17a" stroke="#a8873a" stroke-width="0.6"/>
<path d="M424.2,493 Q424.2,484 432.65,484 Q441.1,484 441.1,493 L441.7,506 L442.3,508 L442.3,559.5 L423,559.5 L423,508 L423.6,506 Z" fill="url(#gAnt)"/><path d="M423.5,507 H441.8" stroke="#000" stroke-opacity="0.5" stroke-width="0.8"/>
<path d="M534.2,493 Q534.2,484 542.4,484 Q550.5999999999999,484 550.5999999999999,493 L551.1999999999999,506 L551.8,508 L551.8,558.5 L533,558.5 L533,508 L533.6,506 Z" fill="url(#gAnt)"/><path d="M533.5,507 H551.3" stroke="#000" stroke-opacity="0.5" stroke-width="0.8"/>
<g fill="none" stroke="#ebb93e" stroke-width="2.2">
<line x1="315.3" y1="469" x2="315.3" y2="606"/>
<rect x="188" y="606" width="258" height="114.5" stroke-dasharray="9 3.6"/>
<line x1="478.2" y1="469" x2="478.2" y2="551.8"/>
<rect x="413.7" y="551.8" width="143.2" height="32.8" stroke-dasharray="9 3.6"/>
<line x1="519" y1="662.8" x2="661" y2="662.8"/>
<line x1="603" y1="703" x2="661" y2="703"/>
<polyline points="452.2,757 452.2,740.6 670.3,740.6 670.3,871"/>
<line x1="506.3" y1="740.6" x2="506.3" y2="757"/>
<polyline points="560.4,759.4 593.4,759.4 593.4,809.7 560.4,809.7"/>
<polyline points="560.4,782.2 614.8,782.2 614.8,909"/>
</g>
<g fill="none" stroke="#1c7aea" stroke-width="2.2">
<line x1="108" y1="767.6" x2="215.5" y2="767.6"/>
<polyline points="219.8,826.5 219.8,912.3 183.6,912.3"/>
<polyline points="279,776.4 248.2,776.4 248.2,987.7"/>
<line x1="290.8" y1="826.5" x2="290.8" y2="909.8"/>
<line x1="353.3" y1="825" x2="353.3" y2="977"/>
<line x1="409.6" y1="826" x2="409.6" y2="977"/>
<line x1="456.2" y1="826" x2="456.2" y2="911"/>
<line x1="507.2" y1="826" x2="507.2" y2="977"/>
</g>
<g font-family="'Liberation Sans','Noto Sans CJK SC',sans-serif" fill="#121c2b">
<text x="297.6" y="460" font-size="17.8" textLength="39.9" lengthAdjust="spacingAndGlyphs">COM</text>
<text x="440.2" y="460" font-size="17.8" textLength="37.1" lengthAdjust="spacingAndGlyphs">WIFI</text>
<text x="481" y="460" font-size="16.5">天线</text>
<text x="669.5" y="670.7" font-size="17.8" textLength="59.0" lengthAdjust="spacingAndGlyphs">POWER</text>
<text x="669.5" y="698.6" font-size="17.8" textLength="61.2" lengthAdjust="spacingAndGlyphs">PCIE*16</text>
<text x="669.5" y="717.6" font-size="16.2">扩展槽</text>
<text x="63.2" y="774.2" font-size="17.8" textLength="37.0" lengthAdjust="spacingAndGlyphs">PS/2</text>
<text x="98.7" y="918.6" font-size="17.8" textLength="78.8" lengthAdjust="spacingAndGlyphs">USB2.0*2</text>
<text x="266.0" y="932.3" font-size="17.8" textLength="44.8" lengthAdjust="spacingAndGlyphs">HDMI</text>
<text x="232.9" y="1010.8" font-size="17.8" textLength="34.4" lengthAdjust="spacingAndGlyphs">VGA</text>
<text x="320.5" y="1001" font-size="17.8" textLength="59.8" lengthAdjust="spacingAndGlyphs">USB3.0</text>
<text x="388.4" y="1001" font-size="17.8" textLength="59.0" lengthAdjust="spacingAndGlyphs">USB2.0</text>
<text x="471.0" y="1001" font-size="17.8" textLength="78.5" lengthAdjust="spacingAndGlyphs">USB2.0*2</text>
<text x="427.2" y="931" font-size="17.8" textLength="67.6" lengthAdjust="spacingAndGlyphs">USB*3.0</text>
<text x="580" y="927.6" font-size="16.9">音频接口</text>
<text x="655.2" y="893.2" font-size="17.8" textLength="33.3" lengthAdjust="spacingAndGlyphs">LAN</text>
</g>
<g clip-path="url(#cpPanel)"><rect x="10" y="1420" width="396" height="9" fill="#2f5f9f" opacity="0.55" filter="url(#blur2)"/><g transform="translate(-243.86,531.29) scale(1.027)"><polygon points="139,869.8 160.6,850 162.5,850 162.5,869.8" fill="#6486b6"/>
<polygon points="139,869.8 162.5,869.8 162.5,867.8 141.5,867.8" fill="#8ea6c9"/>
<polygon points="632,848 655.5,868.6 655.5,871 632,871" fill="#c5d3e8"/>
<polygon points="633.5,852.5 650.5,868 633.5,868" fill="#92aad0"/>
<rect x="162" y="551" width="470" height="320" fill="url(#gBody)"/>
<rect x="162" y="551" width="1.6" height="320" fill="#3d6aa3"/>
<rect x="630.4" y="551" width="1.6" height="320" fill="#355f99"/>
<rect x="162" y="869" width="470" height="2" fill="#355f99"/>
<rect x="159.5" y="532.5" width="475.5" height="20" rx="1.5" fill="url(#gLid)"/>
<rect x="159.5" y="551.6" width="475.5" height="1.6" fill="#3a659e"/>
<rect x="178.5" y="584" width="438" height="261.5" fill="#2f5a96"/>
<rect x="179.8" y="585.3" width="436" height="259" fill="#416ea8"/>
<rect x="183" y="588.5" width="428.5" height="245" fill="#4d7db5"/>
<rect x="611.5" y="585.3" width="1.6" height="259" fill="#2f5a96"/>
<rect x="613.1" y="585.3" width="3" height="259" fill="#4878b0"/>
<rect x="179.8" y="585.3" width="3.4" height="259" fill="#2e538c"/>
<rect x="183" y="833.5" width="428.5" height="11" fill="#3f689f"/>
<rect x="183" y="832" width="388" height="4.5" fill="#294a80"/>
<rect x="571.5" y="584.5" width="30.5" height="243" fill="url(#gSlot)"/>
<rect x="571.5" y="827" width="30.5" height="1.5" fill="#aab8c8"/>
<rect x="569.5" y="585.5" width="2" height="241" fill="#3d69a3"/>
<circle cx="397.5" cy="542.5" r="5.6" fill="#1c2a44"/><circle cx="397.5" cy="542.5" r="3.5" fill="#4a607f"/><path d="M395.1,542.5 h4.8 M397.5,540.1 v4.8" stroke="#1c2a44" stroke-width="1"/>
<rect x="196.5" y="625" width="66" height="10" rx="5" fill="#9fb0c4" stroke="#7f91a8" stroke-width="0.5"/><circle cx="201.0" cy="630" r="5.4" fill="#e4e8ec" stroke="#7c8896" stroke-width="1"/><circle cx="201.0" cy="630" r="2.6" fill="#aeb7c1" stroke="#87919d" stroke-width="0.6"/><circle cx="258.0" cy="630" r="5.4" fill="#e4e8ec" stroke="#7c8896" stroke-width="1"/><circle cx="258.0" cy="630" r="2.6" fill="#aeb7c1" stroke="#87919d" stroke-width="0.6"/><path d="M213.2,618.2 L245.8,618.2 Q250.8,618.2 250.20000000000002,623.2 L248.10000000000002,636.8 Q247.3,641.8 242.3,641.8 L216.7,641.8 Q211.7,641.8 210.89999999999998,636.8 L208.79999999999998,623.2 Q208.2,618.2 213.2,618.2 Z" fill="#22344f" stroke="#d2dae2" stroke-width="2"/><path d="M213.2,618.2 L245.8,618.2 Q250.8,618.2 250.20000000000002,623.2 L248.10000000000002,636.8 Q247.3,641.8 242.3,641.8 L216.7,641.8 Q211.7,641.8 210.89999999999998,636.8 L208.79999999999998,623.2 Q208.2,618.2 213.2,618.2 Z" fill="#4a96dc" transform="translate(229.5,630) scale(0.9,0.84) translate(-229.5,-630)"/><ellipse cx="217.5" cy="626.4" rx="1.7" ry="1.2" fill="#1d4f92"/><ellipse cx="223.5" cy="626.4" rx="1.7" ry="1.2" fill="#1d4f92"/><ellipse cx="229.5" cy="626.4" rx="1.7" ry="1.2" fill="#1d4f92"/><ellipse cx="235.5" cy="626.4" rx="1.7" ry="1.2" fill="#1d4f92"/><ellipse cx="241.5" cy="626.4" rx="1.7" ry="1.2" fill="#1d4f92"/><ellipse cx="220.5" cy="633.4" rx="1.7" ry="1.2" fill="#1d4f92"/><ellipse cx="226.5" cy="633.4" rx="1.7" ry="1.2" fill="#1d4f92"/><ellipse cx="232.5" cy="633.4" rx="1.7" ry="1.2" fill="#1d4f92"/><ellipse cx="238.5" cy="633.4" rx="1.7" ry="1.2" fill="#1d4f92"/><text x="229.5" y="653.5" font-family="'Liberation Sans','Noto Sans CJK SC',sans-serif" font-size="5.6" fill="#dfeaf7" text-anchor="middle" textLength="15" lengthAdjust="spacingAndGlyphs">RS 232</text>
<rect x="284.5" y="625" width="66" height="10" rx="5" fill="#9fb0c4" stroke="#7f91a8" stroke-width="0.5"/><circle cx="289.0" cy="630" r="5.4" fill="#e4e8ec" stroke="#7c8896" stroke-width="1"/><circle cx="289.0" cy="630" r="2.6" fill="#aeb7c1" stroke="#87919d" stroke-width="0.6"/><circle cx="346.0" cy="630" r="5.4" fill="#e4e8ec" stroke="#7c8896" stroke-width="1"/><circle cx="346.0" cy="630" r="2.6" fill="#aeb7c1" stroke="#87919d" stroke-width="0.6"/><path d="M301.2,618.2 L333.8,618.2 Q338.8,618.2 338.2,623.2 L336.1,636.8 Q335.3,641.8 330.3,641.8 L304.7,641.8 Q299.7,641.8 298.9,636.8 L296.8,623.2 Q296.2,618.2 301.2,618.2 Z" fill="#22344f" stroke="#d2dae2" stroke-width="2"/><path d="M301.2,618.2 L333.8,618.2 Q338.8,618.2 338.2,623.2 L336.1,636.8 Q335.3,641.8 330.3,641.8 L304.7,641.8 Q299.7,641.8 298.9,636.8 L296.8,623.2 Q296.2,618.2 301.2,618.2 Z" fill="#4a96dc" transform="translate(317.5,630) scale(0.9,0.84) translate(-317.5,-630)"/><ellipse cx="305.5" cy="626.4" rx="1.7" ry="1.2" fill="#1d4f92"/><ellipse cx="311.5" cy="626.4" rx="1.7" ry="1.2" fill="#1d4f92"/><ellipse cx="317.5" cy="626.4" rx="1.7" ry="1.2" fill="#1d4f92"/><ellipse cx="323.5" cy="626.4" rx="1.7" ry="1.2" fill="#1d4f92"/><ellipse cx="329.5" cy="626.4" rx="1.7" ry="1.2" fill="#1d4f92"/><ellipse cx="308.5" cy="633.4" rx="1.7" ry="1.2" fill="#1d4f92"/><ellipse cx="314.5" cy="633.4" rx="1.7" ry="1.2" fill="#1d4f92"/><ellipse cx="320.5" cy="633.4" rx="1.7" ry="1.2" fill="#1d4f92"/><ellipse cx="326.5" cy="633.4" rx="1.7" ry="1.2" fill="#1d4f92"/><text x="317.5" y="653.5" font-family="'Liberation Sans','Noto Sans CJK SC',sans-serif" font-size="5.6" fill="#dfeaf7" text-anchor="middle" textLength="15" lengthAdjust="spacingAndGlyphs">RS 232</text>
<rect x="372.5" y="625" width="66" height="10" rx="5" fill="#9fb0c4" stroke="#7f91a8" stroke-width="0.5"/><circle cx="377.0" cy="630" r="5.4" fill="#e4e8ec" stroke="#7c8896" stroke-width="1"/><circle cx="377.0" cy="630" r="2.6" fill="#aeb7c1" stroke="#87919d" stroke-width="0.6"/><circle cx="434.0" cy="630" r="5.4" fill="#e4e8ec" stroke="#7c8896" stroke-width="1"/><circle cx="434.0" cy="630" r="2.6" fill="#aeb7c1" stroke="#87919d" stroke-width="0.6"/><path d="M389.2,618.2 L421.8,618.2 Q426.8,618.2 426.2,623.2 L424.1,636.8 Q423.3,641.8 418.3,641.8 L392.7,641.8 Q387.7,641.8 386.9,636.8 L384.8,623.2 Q384.2,618.2 389.2,618.2 Z" fill="#22344f" stroke="#d2dae2" stroke-width="2"/><path d="M389.2,618.2 L421.8,618.2 Q426.8,618.2 426.2,623.2 L424.1,636.8 Q423.3,641.8 418.3,641.8 L392.7,641.8 Q387.7,641.8 386.9,636.8 L384.8,623.2 Q384.2,618.2 389.2,618.2 Z" fill="#56b0ea" transform="translate(405.5,630) scale(0.9,0.84) translate(-405.5,-630)"/><ellipse cx="393.5" cy="626.4" rx="1.7" ry="1.2" fill="#1d4f92"/><ellipse cx="399.5" cy="626.4" rx="1.7" ry="1.2" fill="#1d4f92"/><ellipse cx="405.5" cy="626.4" rx="1.7" ry="1.2" fill="#1d4f92"/><ellipse cx="411.5" cy="626.4" rx="1.7" ry="1.2" fill="#1d4f92"/><ellipse cx="417.5" cy="626.4" rx="1.7" ry="1.2" fill="#1d4f92"/><ellipse cx="396.5" cy="633.4" rx="1.7" ry="1.2" fill="#1d4f92"/><ellipse cx="402.5" cy="633.4" rx="1.7" ry="1.2" fill="#1d4f92"/><ellipse cx="408.5" cy="633.4" rx="1.7" ry="1.2" fill="#1d4f92"/><ellipse cx="414.5" cy="633.4" rx="1.7" ry="1.2" fill="#1d4f92"/><text x="405.5" y="653.5" font-family="'Liberation Sans','Noto Sans CJK SC',sans-serif" font-size="5.6" fill="#dfeaf7" text-anchor="middle" textLength="15" lengthAdjust="spacingAndGlyphs">RS 232</text>
<rect x="196.5" y="683.8" width="66" height="10" rx="5" fill="#9fb0c4" stroke="#7f91a8" stroke-width="0.5"/><circle cx="201.0" cy="688.8" r="5.4" fill="#e4e8ec" stroke="#7c8896" stroke-width="1"/><circle cx="201.0" cy="688.8" r="2.6" fill="#aeb7c1" stroke="#87919d" stroke-width="0.6"/><circle cx="258.0" cy="688.8" r="5.4" fill="#e4e8ec" stroke="#7c8896" stroke-width="1"/><circle cx="258.0" cy="688.8" r="2.6" fill="#aeb7c1" stroke="#87919d" stroke-width="0.6"/><path d="M213.2,677.0 L245.8,677.0 Q250.8,677.0 250.20000000000002,682.0 L248.10000000000002,695.5999999999999 Q247.3,700.5999999999999 242.3,700.5999999999999 L216.7,700.5999999999999 Q211.7,700.5999999999999 210.89999999999998,695.5999999999999 L208.79999999999998,682.0 Q208.2,677.0 213.2,677.0 Z" fill="#22344f" stroke="#d2dae2" stroke-width="2"/><path d="M213.2,677.0 L245.8,677.0 Q250.8,677.0 250.20000000000002,682.0 L248.10000000000002,695.5999999999999 Q247.3,700.5999999999999 242.3,700.5999999999999 L216.7,700.5999999999999 Q211.7,700.5999999999999 210.89999999999998,695.5999999999999 L208.79999999999998,682.0 Q208.2,677.0 213.2,677.0 Z" fill="#4a96dc" transform="translate(229.5,688.8) scale(0.9,0.84) translate(-229.5,-688.8)"/><ellipse cx="217.5" cy="685.1999999999999" rx="1.7" ry="1.2" fill="#1d4f92"/><ellipse cx="223.5" cy="685.1999999999999" rx="1.7" ry="1.2" fill="#1d4f92"/><ellipse cx="229.5" cy="685.1999999999999" rx="1.7" ry="1.2" fill="#1d4f92"/><ellipse cx="235.5" cy="685.1999999999999" rx="1.7" ry="1.2" fill="#1d4f92"/><ellipse cx="241.5" cy="685.1999999999999" rx="1.7" ry="1.2" fill="#1d4f92"/><ellipse cx="220.5" cy="692.1999999999999" rx="1.7" ry="1.2" fill="#1d4f92"/><ellipse cx="226.5" cy="692.1999999999999" rx="1.7" ry="1.2" fill="#1d4f92"/><ellipse cx="232.5" cy="692.1999999999999" rx="1.7" ry="1.2" fill="#1d4f92"/><ellipse cx="238.5" cy="692.1999999999999" rx="1.7" ry="1.2" fill="#1d4f92"/><text x="229.5" y="712.3" font-family="'Liberation Sans','Noto Sans CJK SC',sans-serif" font-size="5.6" fill="#dfeaf7" text-anchor="middle" textLength="15" lengthAdjust="spacingAndGlyphs">RS 232</text>
<rect x="284.5" y="683.8" width="66" height="10" rx="5" fill="#9fb0c4" stroke="#7f91a8" stroke-width="0.5"/><circle cx="289.0" cy="688.8" r="5.4" fill="#e4e8ec" stroke="#7c8896" stroke-width="1"/><circle cx="289.0" cy="688.8" r="2.6" fill="#aeb7c1" stroke="#87919d" stroke-width="0.6"/><circle cx="346.0" cy="688.8" r="5.4" fill="#e4e8ec" stroke="#7c8896" stroke-width="1"/><circle cx="346.0" cy="688.8" r="2.6" fill="#aeb7c1" stroke="#87919d" stroke-width="0.6"/><path d="M301.2,677.0 L333.8,677.0 Q338.8,677.0 338.2,682.0 L336.1,695.5999999999999 Q335.3,700.5999999999999 330.3,700.5999999999999 L304.7,700.5999999999999 Q299.7,700.5999999999999 298.9,695.5999999999999 L296.8,682.0 Q296.2,677.0 301.2,677.0 Z" fill="#22344f" stroke="#d2dae2" stroke-width="2"/><path d="M301.2,677.0 L333.8,677.0 Q338.8,677.0 338.2,682.0 L336.1,695.5999999999999 Q335.3,700.5999999999999 330.3,700.5999999999999 L304.7,700.5999999999999 Q299.7,700.5999999999999 298.9,695.5999999999999 L296.8,682.0 Q296.2,677.0 301.2,677.0 Z" fill="#4a96dc" transform="translate(317.5,688.8) scale(0.9,0.84) translate(-317.5,-688.8)"/><ellipse cx="305.5" cy="685.1999999999999" rx="1.7" ry="1.2" fill="#1d4f92"/><ellipse cx="311.5" cy="685.1999999999999" rx="1.7" ry="1.2" fill="#1d4f92"/><ellipse cx="317.5" cy="685.1999999999999" rx="1.7" ry="1.2" fill="#1d4f92"/><ellipse cx="323.5" cy="685.1999999999999" rx="1.7" ry="1.2" fill="#1d4f92"/><ellipse cx="329.5" cy="685.1999999999999" rx="1.7" ry="1.2" fill="#1d4f92"/><ellipse cx="308.5" cy="692.1999999999999" rx="1.7" ry="1.2" fill="#1d4f92"/><ellipse cx="314.5" cy="692.1999999999999" rx="1.7" ry="1.2" fill="#1d4f92"/><ellipse cx="320.5" cy="692.1999999999999" rx="1.7" ry="1.2" fill="#1d4f92"/><ellipse cx="326.5" cy="692.1999999999999" rx="1.7" ry="1.2" fill="#1d4f92"/><text x="317.5" y="712.3" font-family="'Liberation Sans','Noto Sans CJK SC',sans-serif" font-size="5.6" fill="#dfeaf7" text-anchor="middle" textLength="15" lengthAdjust="spacingAndGlyphs">RS 232</text>
<rect x="372.5" y="683.8" width="66" height="10" rx="5" fill="#9fb0c4" stroke="#7f91a8" stroke-width="0.5"/><circle cx="377.0" cy="688.8" r="5.4" fill="#e4e8ec" stroke="#7c8896" stroke-width="1"/><circle cx="377.0" cy="688.8" r="2.6" fill="#aeb7c1" stroke="#87919d" stroke-width="0.6"/><circle cx="434.0" cy="688.8" r="5.4" fill="#e4e8ec" stroke="#7c8896" stroke-width="1"/><circle cx="434.0" cy="688.8" r="2.6" fill="#aeb7c1" stroke="#87919d" stroke-width="0.6"/><path d="M389.2,677.0 L421.8,677.0 Q426.8,677.0 426.2,682.0 L424.1,695.5999999999999 Q423.3,700.5999999999999 418.3,700.5999999999999 L392.7,700.5999999999999 Q387.7,700.5999999999999 386.9,695.5999999999999 L384.8,682.0 Q384.2,677.0 389.2,677.0 Z" fill="#22344f" stroke="#d2dae2" stroke-width="2"/><path d="M389.2,677.0 L421.8,677.0 Q426.8,677.0 426.2,682.0 L424.1,695.5999999999999 Q423.3,700.5999999999999 418.3,700.5999999999999 L392.7,700.5999999999999 Q387.7,700.5999999999999 386.9,695.5999999999999 L384.8,682.0 Q384.2,677.0 389.2,677.0 Z" fill="#56b0ea" transform="translate(405.5,688.8) scale(0.9,0.84) translate(-405.5,-688.8)"/><ellipse cx="393.5" cy="685.1999999999999" rx="1.7" ry="1.2" fill="#1d4f92"/><ellipse cx="399.5" cy="685.1999999999999" rx="1.7" ry="1.2" fill="#1d4f92"/><ellipse cx="405.5" cy="685.1999999999999" rx="1.7" ry="1.2" fill="#1d4f92"/><ellipse cx="411.5" cy="685.1999999999999" rx="1.7" ry="1.2" fill="#1d4f92"/><ellipse cx="417.5" cy="685.1999999999999" rx="1.7" ry="1.2" fill="#1d4f92"/><ellipse cx="396.5" cy="692.1999999999999" rx="1.7" ry="1.2" fill="#1d4f92"/><ellipse cx="402.5" cy="692.1999999999999" rx="1.7" ry="1.2" fill="#1d4f92"/><ellipse cx="408.5" cy="692.1999999999999" rx="1.7" ry="1.2" fill="#1d4f92"/><ellipse cx="414.5" cy="692.1999999999999" rx="1.7" ry="1.2" fill="#1d4f92"/><text x="405.5" y="712.3" font-family="'Liberation Sans','Noto Sans CJK SC',sans-serif" font-size="5.6" fill="#dfeaf7" text-anchor="middle" textLength="15" lengthAdjust="spacingAndGlyphs">RS 232</text>
<g fill="#1b2b46"><circle cx="478.7" cy="610.8" r="3.0"/><circle cx="488.0" cy="610.8" r="3.0"/><circle cx="497.4" cy="610.8" r="3.0"/><circle cx="506.7" cy="610.8" r="3.0"/><circle cx="516.0" cy="610.8" r="3.0"/><circle cx="525.4" cy="610.8" r="3.0"/><circle cx="534.7" cy="610.8" r="3.0"/><circle cx="469.3" cy="620.2" r="3.0"/><circle cx="478.7" cy="620.2" r="3.0"/><circle cx="488.0" cy="620.2" r="3.0"/><circle cx="497.4" cy="620.2" r="3.0"/><circle cx="506.7" cy="620.2" r="3.0"/><circle cx="516.0" cy="620.2" r="3.0"/><circle cx="525.4" cy="620.2" r="3.0"/><circle cx="534.7" cy="620.2" r="3.0"/><circle cx="544.1" cy="620.2" r="3.0"/><circle cx="460.0" cy="629.6" r="3.0"/><circle cx="469.3" cy="629.6" r="3.0"/><circle cx="478.7" cy="629.6" r="3.0"/><circle cx="488.0" cy="629.6" r="3.0"/><circle cx="497.4" cy="629.6" r="3.0"/><circle cx="506.7" cy="629.6" r="3.0"/><circle cx="516.0" cy="629.6" r="3.0"/><circle cx="525.4" cy="629.6" r="3.0"/><circle cx="534.7" cy="629.6" r="3.0"/><circle cx="544.1" cy="629.6" r="3.0"/><circle cx="553.4" cy="629.6" r="3.0"/><circle cx="460.0" cy="638.9" r="3.0"/><circle cx="469.3" cy="638.9" r="3.0"/><circle cx="478.7" cy="638.9" r="3.0"/><circle cx="488.0" cy="638.9" r="3.0"/><circle cx="525.4" cy="638.9" r="3.0"/><circle cx="534.7" cy="638.9" r="3.0"/><circle cx="544.1" cy="638.9" r="3.0"/><circle cx="553.4" cy="638.9" r="3.0"/><circle cx="460.0" cy="648.3" r="3.0"/><circle cx="469.3" cy="648.3" r="3.0"/><circle cx="478.7" cy="648.3" r="3.0"/><circle cx="534.7" cy="648.3" r="3.0"/><circle cx="544.1" cy="648.3" r="3.0"/><circle cx="553.4" cy="648.3" r="3.0"/><circle cx="460.0" cy="657.7" r="3.0"/><circle cx="469.3" cy="657.7" r="3.0"/><circle cx="478.7" cy="657.7" r="3.0"/><circle cx="534.7" cy="657.7" r="3.0"/><circle cx="544.1" cy="657.7" r="3.0"/><circle cx="553.4" cy="657.7" r="3.0"/><circle cx="460.0" cy="667.1" r="3.0"/><circle cx="469.3" cy="667.1" r="3.0"/><circle cx="478.7" cy="667.1" r="3.0"/><circle cx="534.7" cy="667.1" r="3.0"/><circle cx="544.1" cy="667.1" r="3.0"/><circle cx="553.4" cy="667.1" r="3.0"/><circle cx="460.0" cy="676.5" r="3.0"/><circle cx="469.3" cy="676.5" r="3.0"/><circle cx="478.7" cy="676.5" r="3.0"/><circle cx="534.7" cy="676.5" r="3.0"/><circle cx="544.1" cy="676.5" r="3.0"/><circle cx="553.4" cy="676.5" r="3.0"/><circle cx="460.0" cy="685.8" r="3.0"/><circle cx="469.3" cy="685.8" r="3.0"/><circle cx="478.7" cy="685.8" r="3.0"/><circle cx="488.0" cy="685.8" r="3.0"/><circle cx="516.0" cy="685.8" r="3.0"/><circle cx="525.4" cy="685.8" r="3.0"/><circle cx="534.7" cy="685.8" r="3.0"/><circle cx="544.1" cy="685.8" r="3.0"/><circle cx="553.4" cy="685.8" r="3.0"/><circle cx="460.0" cy="695.2" r="3.0"/><circle cx="469.3" cy="695.2" r="3.0"/><circle cx="478.7" cy="695.2" r="3.0"/><circle cx="488.0" cy="695.2" r="3.0"/><circle cx="497.4" cy="695.2" r="3.0"/><circle cx="506.7" cy="695.2" r="3.0"/><circle cx="516.0" cy="695.2" r="3.0"/><circle cx="525.4" cy="695.2" r="3.0"/><circle cx="534.7" cy="695.2" r="3.0"/><circle cx="544.1" cy="695.2" r="3.0"/><circle cx="553.4" cy="695.2" r="3.0"/><circle cx="469.3" cy="704.6" r="3.0"/><circle cx="478.7" cy="704.6" r="3.0"/><circle cx="488.0" cy="704.6" r="3.0"/><circle cx="497.4" cy="704.6" r="3.0"/><circle cx="506.7" cy="704.6" r="3.0"/><circle cx="516.0" cy="704.6" r="3.0"/><circle cx="525.4" cy="704.6" r="3.0"/><circle cx="534.7" cy="704.6" r="3.0"/><circle cx="544.1" cy="704.6" r="3.0"/><circle cx="478.7" cy="714.0" r="3.0"/><circle cx="488.0" cy="714.0" r="3.0"/><circle cx="497.4" cy="714.0" r="3.0"/><circle cx="506.7" cy="714.0" r="3.0"/><circle cx="516.0" cy="714.0" r="3.0"/><circle cx="525.4" cy="714.0" r="3.0"/><circle cx="534.7" cy="714.0" r="3.0"/></g>
<circle cx="506" cy="662.3" r="14.2" fill="url(#gBtn)" stroke="#3d4a5c" stroke-width="1"/>
<text x="506" y="687.5" font-family="'Liberation Sans','Noto Sans CJK SC',sans-serif" font-size="4.6" fill="#dfeaf7" text-anchor="middle" textLength="13" lengthAdjust="spacingAndGlyphs">POWER</text>
<rect x="195.5" y="728.6" width="367.5" height="103.4" rx="2" fill="#22385c"/>
<rect x="198.8" y="731.6" width="361" height="98.4" rx="1.5" fill="url(#gShield)"/>
<rect x="198.8" y="826" width="361" height="4" fill="#c3cbd8"/>
<circle cx="226.3" cy="768.3" r="11.3" fill="#8bd9c8" stroke="#1b2a4a" stroke-width="2.6"/>
<path d="M226.3,759 A9.3,9.3 0 0 0 226.3,777.6 Z" fill="#86cfe0"/>
<rect x="224.3" y="760.5" width="4" height="5" fill="#1b2a4a"/>
<circle cx="221.3" cy="766.3" r="0.9" fill="#25406a"/>
<circle cx="231.3" cy="766.3" r="0.9" fill="#25406a"/>
<circle cx="221.8" cy="771.8" r="0.9" fill="#25406a"/>
<circle cx="230.8" cy="771.8" r="0.9" fill="#25406a"/>
<circle cx="224.5" cy="774.3" r="0.9" fill="#25406a"/>
<circle cx="228.10000000000002" cy="774.3" r="0.9" fill="#25406a"/>
<path d="M213,757 v-4 h3 M239.5,757 v-4 h-3 M222,753.4 h8" stroke="#2c3a52" stroke-width="1.1" fill="none"/>
<rect x="210.6" y="787.9000000000001" width="30.400000000000002" height="15.2" rx="1.5" fill="#9aa3ae"/><rect x="211.4" y="788.7" width="28.8" height="13.6" rx="1" fill="#14161a"/><rect x="213.9" y="791.2" width="23.8" height="5.7" fill="#3b3d44"/><rect x="213.9" y="796.9" width="23.8" height="1.2" fill="#55585f"/>
<rect x="210.6" y="807.2" width="30.400000000000002" height="15.0" rx="1.5" fill="#9aa3ae"/><rect x="211.4" y="808" width="28.8" height="13.4" rx="1" fill="#14161a"/><rect x="213.9" y="810.5" width="23.8" height="5.6" fill="#3b3d44"/><rect x="213.9" y="816.1" width="23.8" height="1.2" fill="#55585f"/>
<rect x="264.7" y="755.7" width="50" height="2" fill="#15181d"/><rect x="264.7" y="788.4" width="50" height="2" fill="#15181d"/>
<circle cx="262" cy="772" r="4.2" fill="#dfe4ea" stroke="#98a2af" stroke-width="0.8"/><circle cx="262" cy="772" r="2.4" fill="#1a1d22"/>
<circle cx="320.5" cy="772" r="4.2" fill="#dfe4ea" stroke="#98a2af" stroke-width="0.8"/><circle cx="320.5" cy="772" r="2.4" fill="#1a1d22"/>
<path d="M274,764 H307.5 Q310,764 309.6,766.5 L307,781.5 Q306.5,784 304,784 H277.5 Q275,784 274.5,781.5 L271.9,766.5 Q271.5,764 274,764 Z" fill="#2d7ae2" stroke="#e6eaef" stroke-width="2.4"/><path d="M274,764 H307.5 Q310,764 309.6,766.5 L307,781.5 Q306.5,784 304,784 H277.5 Q275,784 274.5,781.5 L271.9,766.5 Q271.5,764 274,764 Z" fill="none" stroke="#7f8a98" stroke-width="0.5"/>
<circle cx="280.5" cy="768.6" r="1.15" fill="#123a86"/>
<circle cx="285.9" cy="768.6" r="1.15" fill="#123a86"/>
<circle cx="291.3" cy="768.6" r="1.15" fill="#123a86"/>
<circle cx="296.7" cy="768.6" r="1.15" fill="#123a86"/>
<circle cx="302.1" cy="768.6" r="1.15" fill="#123a86"/>
<circle cx="277.9" cy="773.8" r="1.15" fill="#123a86"/>
<circle cx="283.3" cy="773.8" r="1.15" fill="#123a86"/>
<circle cx="288.7" cy="773.8" r="1.15" fill="#123a86"/>
<circle cx="294.1" cy="773.8" r="1.15" fill="#123a86"/>
<circle cx="299.5" cy="773.8" r="1.15" fill="#123a86"/>
<circle cx="280.5" cy="779.0" r="1.15" fill="#123a86"/>
<circle cx="285.9" cy="779.0" r="1.15" fill="#123a86"/>
<circle cx="291.3" cy="779.0" r="1.15" fill="#123a86"/>
<circle cx="296.7" cy="779.0" r="1.15" fill="#123a86"/>
<circle cx="302.1" cy="779.0" r="1.15" fill="#123a86"/>
<circle cx="262.3" cy="809.2" r="3.4" fill="#e1e5ea" stroke="#98a2af" stroke-width="0.7"/><circle cx="262.3" cy="809.2" r="1.9" fill="#1a1d22"/>
<circle cx="319.3" cy="809.2" r="3.4" fill="#e1e5ea" stroke="#98a2af" stroke-width="0.7"/><circle cx="319.3" cy="809.2" r="1.9" fill="#1a1d22"/>
<path d="M271.5,810.4 H310 V818 L305.5,823.6 H276 L271.5,818 Z" fill="#101215" stroke="#c9d0d9" stroke-width="1.8"/><rect x="277" y="814.6" width="27.5" height="2.6" fill="#4a4d55"/>
<rect x="339.2" y="747.5" width="35.1" height="16.0" rx="1.5" fill="#9aa3ae"/><rect x="340" y="748.3" width="33.5" height="14.4" rx="1" fill="#14161a"/><rect x="342.5" y="750.5" width="28.5" height="7.2" fill="url(#gUsb3)"/><rect x="342.5" y="757.7" width="28.5" height="1.6" fill="#1557a8"/>
<rect x="339.2" y="767.5" width="35.1" height="16.0" rx="1.5" fill="#9aa3ae"/><rect x="340" y="768.3" width="33.5" height="14.4" rx="1" fill="#14161a"/><rect x="342.5" y="770.5" width="28.5" height="7.2" fill="url(#gUsb3)"/><rect x="342.5" y="777.7" width="28.5" height="1.6" fill="#1557a8"/>
<rect x="339.2" y="787.4000000000001" width="35.1" height="16.0" rx="1.5" fill="#9aa3ae"/><rect x="340" y="788.2" width="33.5" height="14.4" rx="1" fill="#14161a"/><rect x="342.5" y="790.4000000000001" width="28.5" height="7.2" fill="url(#gUsb3)"/><rect x="342.5" y="797.6" width="28.5" height="1.6" fill="#1557a8"/>
<rect x="339.2" y="806.8000000000001" width="35.1" height="16.0" rx="1.5" fill="#9aa3ae"/><rect x="340" y="807.6" width="33.5" height="14.4" rx="1" fill="#14161a"/><rect x="342.5" y="809.8000000000001" width="28.5" height="7.2" fill="url(#gUsb3)"/><rect x="342.5" y="817.0" width="28.5" height="1.6" fill="#1557a8"/>
<rect x="386.9" y="747.5" width="35.300000000000004" height="16.400000000000002" rx="1.5" fill="#9aa3ae"/><rect x="387.7" y="748.3" width="33.7" height="14.8" rx="1" fill="#14161a"/><rect x="390.2" y="750.8" width="28.700000000000003" height="6.2" fill="#3b3d44"/><rect x="390.2" y="757.0" width="28.700000000000003" height="1.2" fill="#55585f"/>
<rect x="386.9" y="767.5" width="35.300000000000004" height="16.400000000000002" rx="1.5" fill="#9aa3ae"/><rect x="387.7" y="768.3" width="33.7" height="14.8" rx="1" fill="#14161a"/><rect x="390.2" y="770.8" width="28.700000000000003" height="6.2" fill="#3b3d44"/><rect x="390.2" y="777.0" width="28.700000000000003" height="1.2" fill="#55585f"/>
<rect x="386.9" y="787.4000000000001" width="35.300000000000004" height="16.400000000000002" rx="1.5" fill="#9aa3ae"/><rect x="387.7" y="788.2" width="33.7" height="14.8" rx="1" fill="#14161a"/><rect x="390.2" y="790.7" width="28.700000000000003" height="6.2" fill="#3b3d44"/><rect x="390.2" y="796.9" width="28.700000000000003" height="1.2" fill="#55585f"/>
<rect x="386.9" y="806.8000000000001" width="35.300000000000004" height="16.400000000000002" rx="1.5" fill="#9aa3ae"/><rect x="387.7" y="807.6" width="33.7" height="14.8" rx="1" fill="#14161a"/><rect x="390.2" y="810.1" width="28.700000000000003" height="6.2" fill="#3b3d44"/><rect x="390.2" y="816.3" width="28.700000000000003" height="1.2" fill="#55585f"/>
<rect x="445.65000000000003" y="746.5" width="14" height="9" fill="#b08a3a"/><rect x="434.8" y="754" width="35.7" height="28.5" rx="1.2" fill="#aab3bd"/><rect x="435.8" y="755" width="33.7" height="26.5" fill="#3c434c"/><path d="M438.3,779.5 V763 H443.8 V759.5 H461.5 V763 H467.0 V779.5 Z" fill="#121417"/><rect x="436.8" y="756" width="6" height="4" fill="#58c878"/><rect x="462.5" y="756" width="6" height="4" fill="#e8e45a"/>
<rect x="435.7" y="787.9000000000001" width="34.6" height="15.9" rx="1.5" fill="#9aa3ae"/><rect x="436.5" y="788.7" width="33" height="14.3" rx="1" fill="#14161a"/><rect x="439.0" y="790.9000000000001" width="28" height="7.2" fill="url(#gUsb3)"/><rect x="439.0" y="798.1" width="28" height="1.6" fill="#1557a8"/>
<rect x="435.7" y="807.2" width="34.6" height="15.4" rx="1.5" fill="#9aa3ae"/><rect x="436.5" y="808" width="33" height="13.8" rx="1" fill="#14161a"/><rect x="439.0" y="810.2" width="28" height="6.9" fill="url(#gUsb3)"/><rect x="439.0" y="817.1" width="28" height="1.6" fill="#1557a8"/>
<rect x="498.65" y="746.5" width="14" height="9" fill="#17191d"/><rect x="488.4" y="754" width="34.5" height="28.5" rx="1.2" fill="#aab3bd"/><rect x="489.4" y="755" width="32.5" height="26.5" fill="#3c434c"/><path d="M491.9,779.5 V763 H497.4 V759.5 H513.9 V763 H519.4 V779.5 Z" fill="#121417"/><rect x="490.4" y="756" width="6" height="4" fill="#58c878"/><rect x="514.9" y="756" width="6" height="4" fill="#e8e45a"/>
<rect x="490.2" y="788.7" width="32.1" height="15.2" rx="1.5" fill="#9aa3ae"/><rect x="491" y="789.5" width="30.5" height="13.6" rx="1" fill="#14161a"/><rect x="493.5" y="792.0" width="25.5" height="5.7" fill="#3b3d44"/><rect x="493.5" y="797.7" width="25.5" height="1.2" fill="#55585f"/>
<rect x="490.2" y="807.6" width="32.1" height="15.2" rx="1.5" fill="#9aa3ae"/><rect x="491" y="808.4" width="30.5" height="13.6" rx="1" fill="#14161a"/><rect x="493.5" y="810.9" width="25.5" height="5.7" fill="#3b3d44"/><rect x="493.5" y="816.6" width="25.5" height="1.2" fill="#55585f"/>
<circle cx="546.7" cy="758.7" r="10" fill="#86c6ee" stroke="#ffffff" stroke-opacity="0.7" stroke-width="1"/><circle cx="546.7" cy="758.7" r="6.6" fill="#e8eef2" fill-opacity="0.55"/><circle cx="546.7" cy="758.7" r="4.8" fill="#0d0e10"/>
<circle cx="546.7" cy="783.4" r="10" fill="#cfe3d6" stroke="#ffffff" stroke-opacity="0.7" stroke-width="1"/><circle cx="546.7" cy="783.4" r="6.6" fill="#e8eef2" fill-opacity="0.55"/><circle cx="546.7" cy="783.4" r="4.8" fill="#0d0e10"/>
<circle cx="546.7" cy="809.2" r="10" fill="#f08bb2" stroke="#ffffff" stroke-opacity="0.7" stroke-width="1"/><circle cx="546.7" cy="809.2" r="6.6" fill="#e8eef2" fill-opacity="0.55"/><circle cx="546.7" cy="809.2" r="4.8" fill="#0d0e10"/>
<circle cx="267.3" cy="858.8" r="5.8" fill="#1c2a44"/><circle cx="267.3" cy="858.8" r="3.6" fill="#4a607f"/><path d="M264.90000000000003,858.8 h4.8 M267.3,856.4 v4.8" stroke="#1c2a44" stroke-width="1"/>
<circle cx="526" cy="859.2" r="5.8" fill="#1c2a44"/><circle cx="526" cy="859.2" r="3.6" fill="#4a607f"/><path d="M523.6,859.2 h4.8 M526,856.8000000000001 v4.8" stroke="#1c2a44" stroke-width="1"/>
<circle cx="432.6" cy="568.4" r="11.3" fill="url(#gGold)" stroke="#8a6820" stroke-width="0.8"/><circle cx="432.6" cy="568.4" r="7.0" fill="#f3e3a6" stroke="#b08d3c" stroke-width="0.9"/><circle cx="432.6" cy="568.4" r="3.4" fill="#d9c17a" stroke="#a8873a" stroke-width="0.6"/>
<polygon points="550.3,571.3 542.3,579.3 531.4,576.4 528.5,565.5 536.5,557.5 547.4,560.4" fill="url(#gGold)" stroke="#8a6820" stroke-width="0.8"/><circle cx="539.4" cy="568.4" r="7.0" fill="#f3e3a6" stroke="#b08d3c" stroke-width="0.9"/><circle cx="539.4" cy="568.4" r="3.4" fill="#d9c17a" stroke="#a8873a" stroke-width="0.6"/>
<path d="M424.2,493 Q424.2,484 432.65,484 Q441.1,484 441.1,493 L441.7,506 L442.3,508 L442.3,559.5 L423,559.5 L423,508 L423.6,506 Z" fill="url(#gAnt)"/><path d="M423.5,507 H441.8" stroke="#000" stroke-opacity="0.5" stroke-width="0.8"/>
<path d="M534.2,493 Q534.2,484 542.4,484 Q550.5999999999999,484 550.5999999999999,493 L551.1999999999999,506 L551.8,508 L551.8,558.5 L533,558.5 L533,508 L533.6,506 Z" fill="url(#gAnt)"/><path d="M533.5,507 H551.3" stroke="#000" stroke-opacity="0.5" stroke-width="0.8"/></g>
<polygon points="405.2,1401 428,1422 428,1425.4 405.2,1425.4" fill="#5a7cb1"/><polygon points="405.2,1423.4 428,1423.4 428,1425.4 405.2,1425.4" fill="#7d98c4"/>
<rect x="338" y="1122" width="40" height="264" rx="6" fill="none" stroke="#46c2ec" stroke-width="5" filter="url(#blur2)" opacity="0.75"/>
<rect x="338" y="1122" width="40" height="264" rx="6" fill="none" stroke="#3fb9e4" stroke-width="2.4"/>
</g>
<line x1="383" y1="1152.5" x2="527" y2="1152.5" stroke="#1673e2" stroke-width="3" stroke-dasharray="9 5"/>
<defs>
<radialGradient id="gCard" cx="0.45" cy="0.3" r="0.75"><stop offset="0" stop-color="#eff8ff"/><stop offset="0.5" stop-color="#d9ecfd"/><stop offset="1" stop-color="#b2d8f9"/></radialGradient>
</defs>
<g font-family="'Liberation Sans','Noto Sans CJK SC',sans-serif">
<rect x="536.8" y="1070.4" width="193" height="109.19999999999982" rx="14" fill="#b9dcf8" opacity="0.35" filter="url(#blur2)"/><rect x="538.8" y="1077.2" width="189" height="101.19999999999982" rx="12" fill="#5b93c9"/><rect x="538.8" y="1075.4" width="189" height="101.19999999999982" rx="12" fill="#86b8e6"/><rect x="538.8" y="1072.4" width="189" height="101.19999999999982" rx="12" fill="url(#gCard)" stroke="#9fcff6" stroke-width="1"/>
<text x="574.8" y="1112.6" font-size="34" fill="#1b5fb5" stroke="#1b5fb5" stroke-width="0.7" font-weight="normal" textLength="13.5" lengthAdjust="spacingAndGlyphs">1</text>
<text x="590.7" y="1112.6" font-size="23" fill="#111c2e" stroke="#111c2e" stroke-width="0.35" font-weight="normal" textLength="99.4" lengthAdjust="spacingAndGlyphs">*PCIe×16</text>
<text x="549.2" y="1141.2" font-size="15" fill="#28364d" font-weight="normal" textLength="168.2" lengthAdjust="spacingAndGlyphs">支持高速显卡/图像采集卡</text>
<text x="563.8" y="1158.8" font-size="15" fill="#28364d" font-weight="normal" textLength="138.0" lengthAdjust="spacingAndGlyphs">运动控制卡/IO卡扩展</text>
<rect x="536.8" y="1193.8" width="193" height="106.0" rx="14" fill="#b9dcf8" opacity="0.35" filter="url(#blur2)"/><rect x="538.8" y="1200.6" width="189" height="98.0" rx="12" fill="#5b93c9"/><rect x="538.8" y="1198.8" width="189" height="98.0" rx="12" fill="#86b8e6"/><rect x="538.8" y="1195.8" width="189" height="98.0" rx="12" fill="url(#gCard)" stroke="#9fcff6" stroke-width="1"/>
<text x="598.8" y="1234.3" font-size="34" fill="#1b5fb5" stroke="#1b5fb5" stroke-width="0.7" font-weight="normal" textLength="13.5" lengthAdjust="spacingAndGlyphs">1</text>
<text x="614.7" y="1234.3" font-size="23" fill="#111c2e" stroke="#111c2e" stroke-width="0.35" font-weight="normal" textLength="52.3" lengthAdjust="spacingAndGlyphs">*M.2</text>
<text x="583.8" y="1263" font-size="15" fill="#28364d" font-weight="normal" textLength="98.3" lengthAdjust="spacingAndGlyphs">PCIe+USB协议</text>
<text x="549.8" y="1281" font-size="15" fill="#28364d" font-weight="normal" textLength="167.2" lengthAdjust="spacingAndGlyphs">支持WiFi+蓝牙 或 4G/5G</text>
<rect x="536.8" y="1313" width="193" height="105.20000000000005" rx="14" fill="#b9dcf8" opacity="0.35" filter="url(#blur2)"/><rect x="538.8" y="1319.8" width="189" height="97.20000000000005" rx="12" fill="#5b93c9"/><rect x="538.8" y="1318" width="189" height="97.20000000000005" rx="12" fill="#86b8e6"/><rect x="538.8" y="1315" width="189" height="97.20000000000005" rx="12" fill="url(#gCard)" stroke="#9fcff6" stroke-width="1"/>
<text x="547.0" y="1354.6" font-size="34" fill="#1b5fb5" stroke="#1b5fb5" stroke-width="0.7" font-weight="normal" textLength="18.5" lengthAdjust="spacingAndGlyphs">2</text>
<text x="565.7" y="1354.6" font-size="21" fill="#111c2e" stroke="#111c2e" stroke-width="0.35" font-weight="normal" textLength="58.1" lengthAdjust="spacingAndGlyphs">*SATA+</text>
<text x="623.7" y="1354.6" font-size="34" fill="#1b5fb5" stroke="#1b5fb5" stroke-width="0.7" font-weight="normal" textLength="13.1" lengthAdjust="spacingAndGlyphs">1</text>
<text x="636.2" y="1354.6" font-size="21" fill="#111c2e" stroke="#111c2e" stroke-width="0.35" font-weight="normal" textLength="81.8" lengthAdjust="spacingAndGlyphs">*mSATA</text>
<text x="570.6" y="1383" font-size="15" fill="#28364d" font-weight="normal" textLength="126.3" lengthAdjust="spacingAndGlyphs">支持HDD/SSD固态</text>
<text x="604.5" y="1400.2" font-size="15" fill="#28364d" font-weight="normal" textLength="58.9" lengthAdjust="spacingAndGlyphs">存储升级</text>
</g>
</svg></body></html>
